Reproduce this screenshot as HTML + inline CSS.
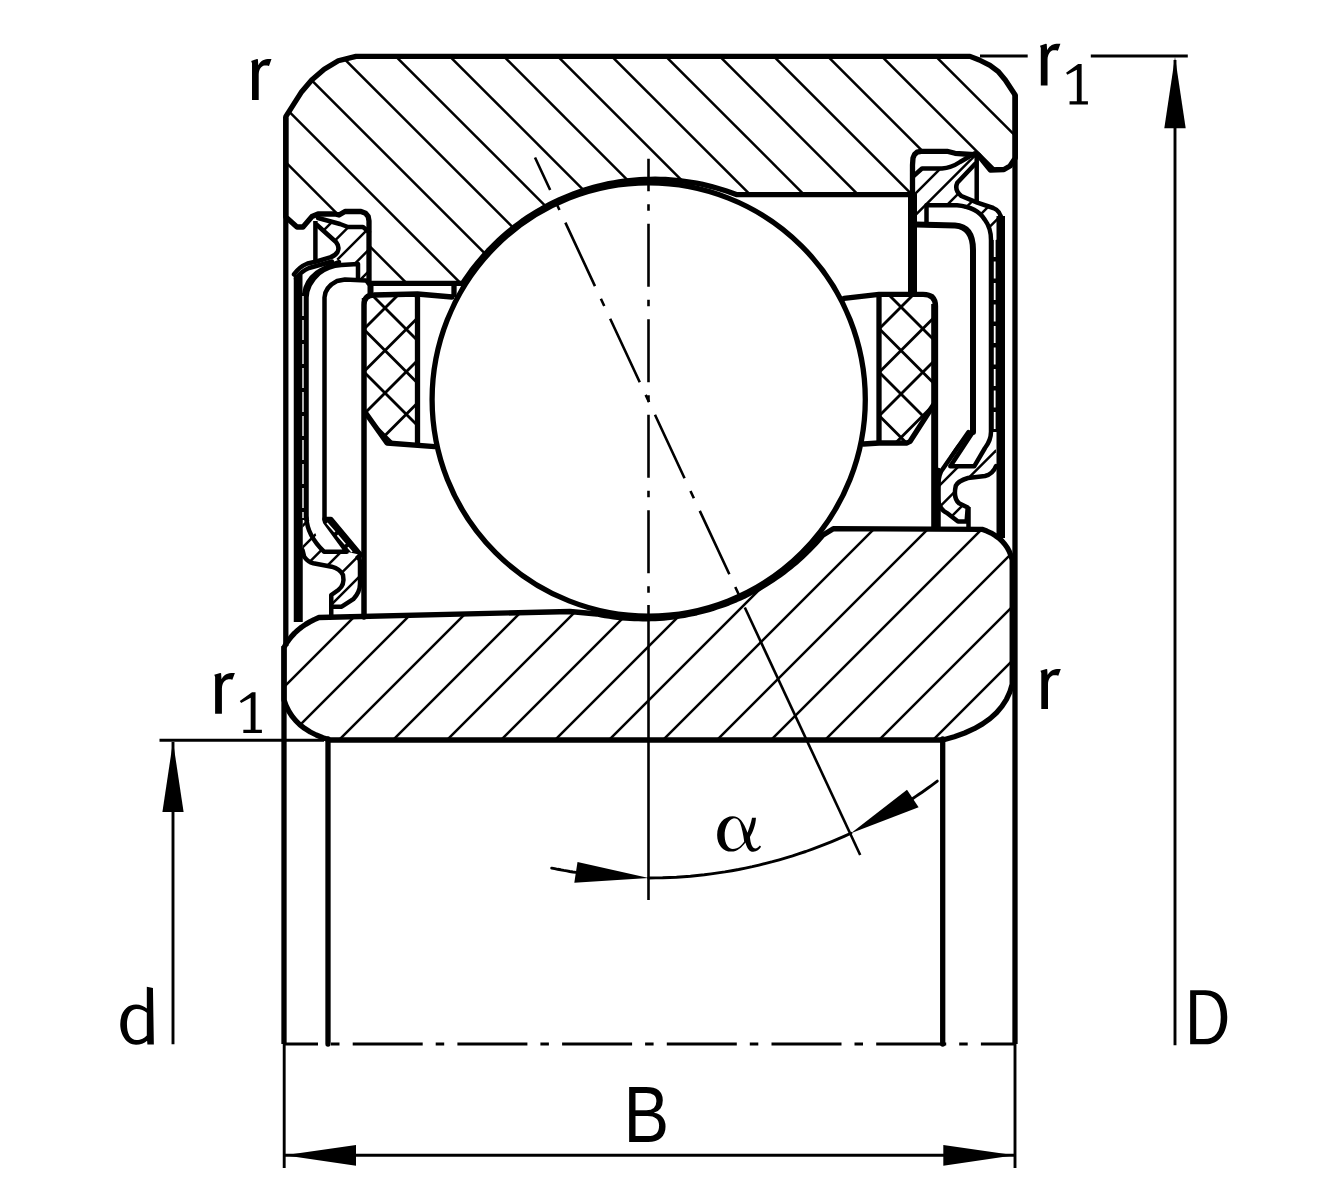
<!DOCTYPE html><html><head><meta charset="utf-8"><style>html,body{margin:0;padding:0;background:#fff;}svg{display:block}</style></head><body>
<svg width="1330" height="1200" viewBox="0 0 1330 1200">
<defs>
<clipPath id="co"><polygon points="356.0,56.4 970.0,56.4 979.3,60.0 990.0,65.3 998.0,71.3 1005.3,80.0 1015.3,95.3 1015.3,158.0 1010.0,166.0 1004.0,169.5 990.4,170.0 985.5,164.0 978.3,155.0 955.0,153.3 947.0,151.3 921.0,151.3 917.0,152.2 914.5,154.5 913.0,158.0 912.5,165.0 912.5,194.6 736.3,194.6 731.4,192.8 726.5,191.1 721.6,189.5 716.6,188.0 711.6,186.6 706.6,185.4 701.5,184.2 696.4,183.2 691.3,182.3 686.2,181.5 681.0,180.8 675.9,180.3 670.7,179.8 665.5,179.5 660.3,179.3 655.2,179.2 650.0,179.3 644.8,179.4 639.6,179.7 634.4,180.1 629.3,180.6 624.1,181.2 619.0,181.9 613.9,182.8 608.8,183.7 603.7,184.8 598.6,186.0 593.6,187.4 588.6,188.8 583.7,190.3 578.8,192.0 573.9,193.7 569.1,195.6 564.3,197.6 559.5,199.7 554.8,201.9 550.2,204.2 545.6,206.6 541.0,209.2 536.6,211.8 532.2,214.5 527.8,217.3 523.5,220.2 519.3,223.3 515.1,226.4 511.1,229.6 507.1,232.9 503.1,236.3 499.3,239.7 495.5,243.3 491.8,247.0 488.2,250.7 484.7,254.5 481.3,258.4 477.9,262.4 474.7,266.4 471.5,270.5 468.5,274.7 465.5,279.0 462.6,283.3 369.0,283.3 369.0,221.0 368.2,216.5 365.5,213.2 361.0,211.5 345.0,211.5 339.0,215.0 335.0,214.0 318.0,214.0 312.0,216.5 303.0,227.0 297.0,227.0 285.8,217.0 285.8,116.7 301.7,91.7 311.7,80.0 324.2,69.2 338.3,60.8"/></clipPath>
<clipPath id="ci"><polygon points="319.0,617.5 570.0,611.5 597.0,614.0 601.1,614.8 605.2,615.6 609.3,616.2 613.5,616.8 617.6,617.3 621.8,617.8 626.0,618.1 630.1,618.4 634.3,618.6 638.5,618.7 642.7,618.8 646.9,618.8 651.1,618.7 655.2,618.5 659.4,618.3 663.6,618.0 667.7,617.6 671.9,617.1 676.0,616.6 680.2,616.0 684.3,615.3 688.4,614.5 692.5,613.7 696.6,612.8 700.7,611.8 704.7,610.7 708.7,609.6 712.8,608.4 716.7,607.1 720.7,605.8 724.6,604.4 728.6,602.9 732.4,601.3 736.3,599.7 740.1,598.0 743.9,596.3 747.7,594.4 751.4,592.5 755.1,590.6 758.8,588.6 762.4,586.5 766.0,584.3 769.5,582.1 773.0,579.8 776.5,577.4 779.9,575.0 783.3,572.6 786.6,570.0 789.9,567.5 793.1,564.8 796.3,562.1 799.5,559.3 802.5,556.5 805.6,553.6 808.6,550.7 811.5,547.7 814.4,544.7 817.2,541.6 820.0,538.5 822.7,535.3 833.3,528.7 982.0,529.3 986.8,531.1 991.2,533.1 995.2,535.5 998.8,538.1 1002.0,541.0 1004.8,544.2 1007.3,547.7 1009.3,551.5 1010.9,555.6 1012.2,560.0 1012.2,684.3 1009.8,692.2 1006.3,699.6 1001.9,706.4 996.5,712.7 990.0,718.6 982.6,723.9 974.2,728.7 964.7,733.0 954.3,736.7 942.9,740.0 330.0,740.0 322.9,737.7 316.3,735.0 310.3,732.0 304.9,728.6 300.0,724.8 295.7,720.6 291.9,716.0 288.7,711.0 286.1,705.7 284.0,700.0 284.0,647.5 286.2,643.6 288.8,639.9 291.6,636.4 294.6,633.1 298.0,630.0 301.6,627.1 305.6,624.4 309.8,621.9 314.2,619.6"/></clipPath>
<clipPath id="cl"><polygon points="365.0,295.0 417.5,295.0 417.5,443.0 387.0,443.0 365.0,412.0"/></clipPath>
<clipPath id="cr"><polygon points="879.0,294.3 933.5,294.3 933.5,405.0 910.0,443.0 879.0,443.0"/></clipPath>
</defs>
<rect width="1330" height="1200" fill="#fff"/>
<g clip-path="url(#co)">
<line x1="0.0" y1="-1473.4" x2="1400.0" y2="-73.4" stroke="#000" stroke-width="2.5" />
<line x1="0.0" y1="-1419.4" x2="1400.0" y2="-19.4" stroke="#000" stroke-width="2.5" />
<line x1="0.0" y1="-1365.4" x2="1400.0" y2="34.6" stroke="#000" stroke-width="2.5" />
<line x1="0.0" y1="-1311.4" x2="1400.0" y2="88.6" stroke="#000" stroke-width="2.5" />
<line x1="0.0" y1="-1257.4" x2="1400.0" y2="142.6" stroke="#000" stroke-width="2.5" />
<line x1="0.0" y1="-1203.4" x2="1400.0" y2="196.6" stroke="#000" stroke-width="2.5" />
<line x1="0.0" y1="-1149.4" x2="1400.0" y2="250.6" stroke="#000" stroke-width="2.5" />
<line x1="0.0" y1="-1095.4" x2="1400.0" y2="304.6" stroke="#000" stroke-width="2.5" />
<line x1="0.0" y1="-1041.4" x2="1400.0" y2="358.6" stroke="#000" stroke-width="2.5" />
<line x1="0.0" y1="-987.4" x2="1400.0" y2="412.6" stroke="#000" stroke-width="2.5" />
<line x1="0.0" y1="-933.4" x2="1400.0" y2="466.6" stroke="#000" stroke-width="2.5" />
<line x1="0.0" y1="-879.4" x2="1400.0" y2="520.6" stroke="#000" stroke-width="2.5" />
<line x1="0.0" y1="-825.4" x2="1400.0" y2="574.6" stroke="#000" stroke-width="2.5" />
<line x1="0.0" y1="-771.4" x2="1400.0" y2="628.6" stroke="#000" stroke-width="2.5" />
<line x1="0.0" y1="-717.4" x2="1400.0" y2="682.6" stroke="#000" stroke-width="2.5" />
<line x1="0.0" y1="-663.4" x2="1400.0" y2="736.6" stroke="#000" stroke-width="2.5" />
<line x1="0.0" y1="-609.4" x2="1400.0" y2="790.6" stroke="#000" stroke-width="2.5" />
<line x1="0.0" y1="-555.4" x2="1400.0" y2="844.6" stroke="#000" stroke-width="2.5" />
<line x1="0.0" y1="-501.4" x2="1400.0" y2="898.6" stroke="#000" stroke-width="2.5" />
<line x1="0.0" y1="-447.4" x2="1400.0" y2="952.6" stroke="#000" stroke-width="2.5" />
<line x1="0.0" y1="-393.4" x2="1400.0" y2="1006.6" stroke="#000" stroke-width="2.5" />
<line x1="0.0" y1="-339.4" x2="1400.0" y2="1060.6" stroke="#000" stroke-width="2.5" />
<line x1="0.0" y1="-285.4" x2="1400.0" y2="1114.6" stroke="#000" stroke-width="2.5" />
<line x1="0.0" y1="-231.4" x2="1400.0" y2="1168.6" stroke="#000" stroke-width="2.5" />
<line x1="0.0" y1="-177.4" x2="1400.0" y2="1222.6" stroke="#000" stroke-width="2.5" />
<line x1="0.0" y1="-123.4" x2="1400.0" y2="1276.6" stroke="#000" stroke-width="2.5" />
<line x1="0.0" y1="-69.4" x2="1400.0" y2="1330.6" stroke="#000" stroke-width="2.5" />
<line x1="0.0" y1="-15.4" x2="1400.0" y2="1384.6" stroke="#000" stroke-width="2.5" />
<line x1="0.0" y1="38.6" x2="1400.0" y2="1438.6" stroke="#000" stroke-width="2.5" />
<line x1="0.0" y1="92.6" x2="1400.0" y2="1492.6" stroke="#000" stroke-width="2.5" />
<line x1="0.0" y1="146.6" x2="1400.0" y2="1546.6" stroke="#000" stroke-width="2.5" />
<line x1="0.0" y1="200.6" x2="1400.0" y2="1600.6" stroke="#000" stroke-width="2.5" />
<line x1="0.0" y1="254.6" x2="1400.0" y2="1654.6" stroke="#000" stroke-width="2.5" />
<line x1="0.0" y1="308.6" x2="1400.0" y2="1708.6" stroke="#000" stroke-width="2.5" />
<line x1="0.0" y1="362.6" x2="1400.0" y2="1762.6" stroke="#000" stroke-width="2.5" />
<line x1="0.0" y1="416.6" x2="1400.0" y2="1816.6" stroke="#000" stroke-width="2.5" />
<line x1="0.0" y1="470.6" x2="1400.0" y2="1870.6" stroke="#000" stroke-width="2.5" />
<line x1="0.0" y1="524.6" x2="1400.0" y2="1924.6" stroke="#000" stroke-width="2.5" />
<line x1="0.0" y1="578.6" x2="1400.0" y2="1978.6" stroke="#000" stroke-width="2.5" />
<line x1="0.0" y1="632.6" x2="1400.0" y2="2032.6" stroke="#000" stroke-width="2.5" />
</g>
<g clip-path="url(#ci)">
<line x1="0.0" y1="-1.0" x2="-1.0" y2="0.0" stroke="#000" stroke-width="2.5" />
<line x1="0.0" y1="53.0" x2="53.0" y2="0.0" stroke="#000" stroke-width="2.5" />
<line x1="0.0" y1="107.0" x2="107.0" y2="0.0" stroke="#000" stroke-width="2.5" />
<line x1="0.0" y1="161.0" x2="161.0" y2="0.0" stroke="#000" stroke-width="2.5" />
<line x1="0.0" y1="215.0" x2="215.0" y2="0.0" stroke="#000" stroke-width="2.5" />
<line x1="0.0" y1="269.0" x2="269.0" y2="0.0" stroke="#000" stroke-width="2.5" />
<line x1="0.0" y1="323.0" x2="323.0" y2="0.0" stroke="#000" stroke-width="2.5" />
<line x1="0.0" y1="377.0" x2="377.0" y2="0.0" stroke="#000" stroke-width="2.5" />
<line x1="0.0" y1="431.0" x2="431.0" y2="0.0" stroke="#000" stroke-width="2.5" />
<line x1="0.0" y1="485.0" x2="485.0" y2="0.0" stroke="#000" stroke-width="2.5" />
<line x1="0.0" y1="539.0" x2="539.0" y2="0.0" stroke="#000" stroke-width="2.5" />
<line x1="0.0" y1="593.0" x2="593.0" y2="0.0" stroke="#000" stroke-width="2.5" />
<line x1="0.0" y1="647.0" x2="647.0" y2="0.0" stroke="#000" stroke-width="2.5" />
<line x1="0.0" y1="701.0" x2="701.0" y2="0.0" stroke="#000" stroke-width="2.5" />
<line x1="0.0" y1="755.0" x2="755.0" y2="0.0" stroke="#000" stroke-width="2.5" />
<line x1="0.0" y1="809.0" x2="809.0" y2="0.0" stroke="#000" stroke-width="2.5" />
<line x1="0.0" y1="863.0" x2="863.0" y2="0.0" stroke="#000" stroke-width="2.5" />
<line x1="0.0" y1="917.0" x2="917.0" y2="0.0" stroke="#000" stroke-width="2.5" />
<line x1="0.0" y1="971.0" x2="971.0" y2="0.0" stroke="#000" stroke-width="2.5" />
<line x1="0.0" y1="1025.0" x2="1025.0" y2="0.0" stroke="#000" stroke-width="2.5" />
<line x1="0.0" y1="1079.0" x2="1079.0" y2="0.0" stroke="#000" stroke-width="2.5" />
<line x1="0.0" y1="1133.0" x2="1133.0" y2="0.0" stroke="#000" stroke-width="2.5" />
<line x1="0.0" y1="1187.0" x2="1187.0" y2="0.0" stroke="#000" stroke-width="2.5" />
<line x1="0.0" y1="1241.0" x2="1241.0" y2="0.0" stroke="#000" stroke-width="2.5" />
<line x1="0.0" y1="1295.0" x2="1295.0" y2="0.0" stroke="#000" stroke-width="2.5" />
<line x1="0.0" y1="1349.0" x2="1349.0" y2="0.0" stroke="#000" stroke-width="2.5" />
<line x1="0.0" y1="1403.0" x2="1403.0" y2="0.0" stroke="#000" stroke-width="2.5" />
<line x1="0.0" y1="1457.0" x2="1457.0" y2="0.0" stroke="#000" stroke-width="2.5" />
<line x1="0.0" y1="1511.0" x2="1511.0" y2="0.0" stroke="#000" stroke-width="2.5" />
<line x1="0.0" y1="1565.0" x2="1565.0" y2="0.0" stroke="#000" stroke-width="2.5" />
<line x1="0.0" y1="1619.0" x2="1619.0" y2="0.0" stroke="#000" stroke-width="2.5" />
<line x1="0.0" y1="1673.0" x2="1673.0" y2="0.0" stroke="#000" stroke-width="2.5" />
<line x1="0.0" y1="1727.0" x2="1727.0" y2="0.0" stroke="#000" stroke-width="2.5" />
<line x1="0.0" y1="1781.0" x2="1781.0" y2="0.0" stroke="#000" stroke-width="2.5" />
<line x1="0.0" y1="1835.0" x2="1835.0" y2="0.0" stroke="#000" stroke-width="2.5" />
<line x1="0.0" y1="1889.0" x2="1889.0" y2="0.0" stroke="#000" stroke-width="2.5" />
<line x1="0.0" y1="1943.0" x2="1943.0" y2="0.0" stroke="#000" stroke-width="2.5" />
<line x1="0.0" y1="1997.0" x2="1997.0" y2="0.0" stroke="#000" stroke-width="2.5" />
<line x1="0.0" y1="2051.0" x2="2051.0" y2="0.0" stroke="#000" stroke-width="2.5" />
<line x1="0.0" y1="2105.0" x2="2105.0" y2="0.0" stroke="#000" stroke-width="2.5" />
<line x1="0.0" y1="2159.0" x2="2159.0" y2="0.0" stroke="#000" stroke-width="2.5" />
<line x1="0.0" y1="2213.0" x2="2213.0" y2="0.0" stroke="#000" stroke-width="2.5" />
<line x1="0.0" y1="2267.0" x2="2267.0" y2="0.0" stroke="#000" stroke-width="2.5" />
<line x1="0.0" y1="2321.0" x2="2321.0" y2="0.0" stroke="#000" stroke-width="2.5" />
<line x1="0.0" y1="2375.0" x2="2375.0" y2="0.0" stroke="#000" stroke-width="2.5" />
<line x1="0.0" y1="2429.0" x2="2429.0" y2="0.0" stroke="#000" stroke-width="2.5" />
<line x1="0.0" y1="2483.0" x2="2483.0" y2="0.0" stroke="#000" stroke-width="2.5" />
<line x1="0.0" y1="2537.0" x2="2537.0" y2="0.0" stroke="#000" stroke-width="2.5" />
<line x1="0.0" y1="2591.0" x2="2591.0" y2="0.0" stroke="#000" stroke-width="2.5" />
<line x1="0.0" y1="2645.0" x2="2645.0" y2="0.0" stroke="#000" stroke-width="2.5" />
</g>
<g clip-path="url(#cl)">
<line x1="0.0" y1="-1352.0" x2="1400.0" y2="48.0" stroke="#000" stroke-width="2.8" />
<line x1="0.0" y1="-582.0" x2="-582.0" y2="0.0" stroke="#000" stroke-width="2.8" />
<line x1="0.0" y1="-1309.5" x2="1400.0" y2="90.5" stroke="#000" stroke-width="2.8" />
<line x1="0.0" y1="-539.5" x2="-539.5" y2="0.0" stroke="#000" stroke-width="2.8" />
<line x1="0.0" y1="-1267.0" x2="1400.0" y2="133.0" stroke="#000" stroke-width="2.8" />
<line x1="0.0" y1="-497.0" x2="-497.0" y2="0.0" stroke="#000" stroke-width="2.8" />
<line x1="0.0" y1="-1224.5" x2="1400.0" y2="175.5" stroke="#000" stroke-width="2.8" />
<line x1="0.0" y1="-454.5" x2="-454.5" y2="0.0" stroke="#000" stroke-width="2.8" />
<line x1="0.0" y1="-1182.0" x2="1400.0" y2="218.0" stroke="#000" stroke-width="2.8" />
<line x1="0.0" y1="-412.0" x2="-412.0" y2="0.0" stroke="#000" stroke-width="2.8" />
<line x1="0.0" y1="-1139.5" x2="1400.0" y2="260.5" stroke="#000" stroke-width="2.8" />
<line x1="0.0" y1="-369.5" x2="-369.5" y2="0.0" stroke="#000" stroke-width="2.8" />
<line x1="0.0" y1="-1097.0" x2="1400.0" y2="303.0" stroke="#000" stroke-width="2.8" />
<line x1="0.0" y1="-327.0" x2="-327.0" y2="0.0" stroke="#000" stroke-width="2.8" />
<line x1="0.0" y1="-1054.5" x2="1400.0" y2="345.5" stroke="#000" stroke-width="2.8" />
<line x1="0.0" y1="-284.5" x2="-284.5" y2="0.0" stroke="#000" stroke-width="2.8" />
<line x1="0.0" y1="-1012.0" x2="1400.0" y2="388.0" stroke="#000" stroke-width="2.8" />
<line x1="0.0" y1="-242.0" x2="-242.0" y2="0.0" stroke="#000" stroke-width="2.8" />
<line x1="0.0" y1="-969.5" x2="1400.0" y2="430.5" stroke="#000" stroke-width="2.8" />
<line x1="0.0" y1="-199.5" x2="-199.5" y2="0.0" stroke="#000" stroke-width="2.8" />
<line x1="0.0" y1="-927.0" x2="1400.0" y2="473.0" stroke="#000" stroke-width="2.8" />
<line x1="0.0" y1="-157.0" x2="-157.0" y2="0.0" stroke="#000" stroke-width="2.8" />
<line x1="0.0" y1="-884.5" x2="1400.0" y2="515.5" stroke="#000" stroke-width="2.8" />
<line x1="0.0" y1="-114.5" x2="-114.5" y2="0.0" stroke="#000" stroke-width="2.8" />
<line x1="0.0" y1="-842.0" x2="1400.0" y2="558.0" stroke="#000" stroke-width="2.8" />
<line x1="0.0" y1="-72.0" x2="-72.0" y2="0.0" stroke="#000" stroke-width="2.8" />
<line x1="0.0" y1="-799.5" x2="1400.0" y2="600.5" stroke="#000" stroke-width="2.8" />
<line x1="0.0" y1="-29.5" x2="-29.5" y2="0.0" stroke="#000" stroke-width="2.8" />
<line x1="0.0" y1="-757.0" x2="1400.0" y2="643.0" stroke="#000" stroke-width="2.8" />
<line x1="0.0" y1="13.0" x2="13.0" y2="0.0" stroke="#000" stroke-width="2.8" />
<line x1="0.0" y1="-714.5" x2="1400.0" y2="685.5" stroke="#000" stroke-width="2.8" />
<line x1="0.0" y1="55.5" x2="55.5" y2="0.0" stroke="#000" stroke-width="2.8" />
<line x1="0.0" y1="-672.0" x2="1400.0" y2="728.0" stroke="#000" stroke-width="2.8" />
<line x1="0.0" y1="98.0" x2="98.0" y2="0.0" stroke="#000" stroke-width="2.8" />
<line x1="0.0" y1="-629.5" x2="1400.0" y2="770.5" stroke="#000" stroke-width="2.8" />
<line x1="0.0" y1="140.5" x2="140.5" y2="0.0" stroke="#000" stroke-width="2.8" />
<line x1="0.0" y1="-587.0" x2="1400.0" y2="813.0" stroke="#000" stroke-width="2.8" />
<line x1="0.0" y1="183.0" x2="183.0" y2="0.0" stroke="#000" stroke-width="2.8" />
<line x1="0.0" y1="-544.5" x2="1400.0" y2="855.5" stroke="#000" stroke-width="2.8" />
<line x1="0.0" y1="225.5" x2="225.5" y2="0.0" stroke="#000" stroke-width="2.8" />
<line x1="0.0" y1="-502.0" x2="1400.0" y2="898.0" stroke="#000" stroke-width="2.8" />
<line x1="0.0" y1="268.0" x2="268.0" y2="0.0" stroke="#000" stroke-width="2.8" />
<line x1="0.0" y1="-459.5" x2="1400.0" y2="940.5" stroke="#000" stroke-width="2.8" />
<line x1="0.0" y1="310.5" x2="310.5" y2="0.0" stroke="#000" stroke-width="2.8" />
<line x1="0.0" y1="-417.0" x2="1400.0" y2="983.0" stroke="#000" stroke-width="2.8" />
<line x1="0.0" y1="353.0" x2="353.0" y2="0.0" stroke="#000" stroke-width="2.8" />
<line x1="0.0" y1="-374.5" x2="1400.0" y2="1025.5" stroke="#000" stroke-width="2.8" />
<line x1="0.0" y1="395.5" x2="395.5" y2="0.0" stroke="#000" stroke-width="2.8" />
<line x1="0.0" y1="-332.0" x2="1400.0" y2="1068.0" stroke="#000" stroke-width="2.8" />
<line x1="0.0" y1="438.0" x2="438.0" y2="0.0" stroke="#000" stroke-width="2.8" />
<line x1="0.0" y1="-289.5" x2="1400.0" y2="1110.5" stroke="#000" stroke-width="2.8" />
<line x1="0.0" y1="480.5" x2="480.5" y2="0.0" stroke="#000" stroke-width="2.8" />
<line x1="0.0" y1="-247.0" x2="1400.0" y2="1153.0" stroke="#000" stroke-width="2.8" />
<line x1="0.0" y1="523.0" x2="523.0" y2="0.0" stroke="#000" stroke-width="2.8" />
<line x1="0.0" y1="-204.5" x2="1400.0" y2="1195.5" stroke="#000" stroke-width="2.8" />
<line x1="0.0" y1="565.5" x2="565.5" y2="0.0" stroke="#000" stroke-width="2.8" />
<line x1="0.0" y1="-162.0" x2="1400.0" y2="1238.0" stroke="#000" stroke-width="2.8" />
<line x1="0.0" y1="608.0" x2="608.0" y2="0.0" stroke="#000" stroke-width="2.8" />
<line x1="0.0" y1="-119.5" x2="1400.0" y2="1280.5" stroke="#000" stroke-width="2.8" />
<line x1="0.0" y1="650.5" x2="650.5" y2="0.0" stroke="#000" stroke-width="2.8" />
<line x1="0.0" y1="-77.0" x2="1400.0" y2="1323.0" stroke="#000" stroke-width="2.8" />
<line x1="0.0" y1="693.0" x2="693.0" y2="0.0" stroke="#000" stroke-width="2.8" />
<line x1="0.0" y1="-34.5" x2="1400.0" y2="1365.5" stroke="#000" stroke-width="2.8" />
<line x1="0.0" y1="735.5" x2="735.5" y2="0.0" stroke="#000" stroke-width="2.8" />
<line x1="0.0" y1="8.0" x2="1400.0" y2="1408.0" stroke="#000" stroke-width="2.8" />
<line x1="0.0" y1="778.0" x2="778.0" y2="0.0" stroke="#000" stroke-width="2.8" />
<line x1="0.0" y1="50.5" x2="1400.0" y2="1450.5" stroke="#000" stroke-width="2.8" />
<line x1="0.0" y1="820.5" x2="820.5" y2="0.0" stroke="#000" stroke-width="2.8" />
<line x1="0.0" y1="93.0" x2="1400.0" y2="1493.0" stroke="#000" stroke-width="2.8" />
<line x1="0.0" y1="863.0" x2="863.0" y2="0.0" stroke="#000" stroke-width="2.8" />
<line x1="0.0" y1="135.5" x2="1400.0" y2="1535.5" stroke="#000" stroke-width="2.8" />
<line x1="0.0" y1="905.5" x2="905.5" y2="0.0" stroke="#000" stroke-width="2.8" />
<line x1="0.0" y1="178.0" x2="1400.0" y2="1578.0" stroke="#000" stroke-width="2.8" />
<line x1="0.0" y1="948.0" x2="948.0" y2="0.0" stroke="#000" stroke-width="2.8" />
<line x1="0.0" y1="220.5" x2="1400.0" y2="1620.5" stroke="#000" stroke-width="2.8" />
<line x1="0.0" y1="990.5" x2="990.5" y2="0.0" stroke="#000" stroke-width="2.8" />
<line x1="0.0" y1="263.0" x2="1400.0" y2="1663.0" stroke="#000" stroke-width="2.8" />
<line x1="0.0" y1="1033.0" x2="1033.0" y2="0.0" stroke="#000" stroke-width="2.8" />
<line x1="0.0" y1="305.5" x2="1400.0" y2="1705.5" stroke="#000" stroke-width="2.8" />
<line x1="0.0" y1="1075.5" x2="1075.5" y2="0.0" stroke="#000" stroke-width="2.8" />
<line x1="0.0" y1="348.0" x2="1400.0" y2="1748.0" stroke="#000" stroke-width="2.8" />
<line x1="0.0" y1="1118.0" x2="1118.0" y2="0.0" stroke="#000" stroke-width="2.8" />
<line x1="0.0" y1="390.5" x2="1400.0" y2="1790.5" stroke="#000" stroke-width="2.8" />
<line x1="0.0" y1="1160.5" x2="1160.5" y2="0.0" stroke="#000" stroke-width="2.8" />
<line x1="0.0" y1="433.0" x2="1400.0" y2="1833.0" stroke="#000" stroke-width="2.8" />
<line x1="0.0" y1="1203.0" x2="1203.0" y2="0.0" stroke="#000" stroke-width="2.8" />
<line x1="0.0" y1="475.5" x2="1400.0" y2="1875.5" stroke="#000" stroke-width="2.8" />
<line x1="0.0" y1="1245.5" x2="1245.5" y2="0.0" stroke="#000" stroke-width="2.8" />
<line x1="0.0" y1="518.0" x2="1400.0" y2="1918.0" stroke="#000" stroke-width="2.8" />
<line x1="0.0" y1="1288.0" x2="1288.0" y2="0.0" stroke="#000" stroke-width="2.8" />
<line x1="0.0" y1="560.5" x2="1400.0" y2="1960.5" stroke="#000" stroke-width="2.8" />
<line x1="0.0" y1="1330.5" x2="1330.5" y2="0.0" stroke="#000" stroke-width="2.8" />
<line x1="0.0" y1="603.0" x2="1400.0" y2="2003.0" stroke="#000" stroke-width="2.8" />
<line x1="0.0" y1="1373.0" x2="1373.0" y2="0.0" stroke="#000" stroke-width="2.8" />
<line x1="0.0" y1="645.5" x2="1400.0" y2="2045.5" stroke="#000" stroke-width="2.8" />
<line x1="0.0" y1="1415.5" x2="1415.5" y2="0.0" stroke="#000" stroke-width="2.8" />
<line x1="0.0" y1="688.0" x2="1400.0" y2="2088.0" stroke="#000" stroke-width="2.8" />
<line x1="0.0" y1="1458.0" x2="1458.0" y2="0.0" stroke="#000" stroke-width="2.8" />
<line x1="0.0" y1="730.5" x2="1400.0" y2="2130.5" stroke="#000" stroke-width="2.8" />
<line x1="0.0" y1="1500.5" x2="1500.5" y2="0.0" stroke="#000" stroke-width="2.8" />
<line x1="0.0" y1="773.0" x2="1400.0" y2="2173.0" stroke="#000" stroke-width="2.8" />
<line x1="0.0" y1="1543.0" x2="1543.0" y2="0.0" stroke="#000" stroke-width="2.8" />
<line x1="0.0" y1="815.5" x2="1400.0" y2="2215.5" stroke="#000" stroke-width="2.8" />
<line x1="0.0" y1="1585.5" x2="1585.5" y2="0.0" stroke="#000" stroke-width="2.8" />
<line x1="0.0" y1="858.0" x2="1400.0" y2="2258.0" stroke="#000" stroke-width="2.8" />
<line x1="0.0" y1="1628.0" x2="1628.0" y2="0.0" stroke="#000" stroke-width="2.8" />
<line x1="0.0" y1="900.5" x2="1400.0" y2="2300.5" stroke="#000" stroke-width="2.8" />
<line x1="0.0" y1="1670.5" x2="1670.5" y2="0.0" stroke="#000" stroke-width="2.8" />
<line x1="0.0" y1="943.0" x2="1400.0" y2="2343.0" stroke="#000" stroke-width="2.8" />
<line x1="0.0" y1="1713.0" x2="1713.0" y2="0.0" stroke="#000" stroke-width="2.8" />
<line x1="0.0" y1="985.5" x2="1400.0" y2="2385.5" stroke="#000" stroke-width="2.8" />
<line x1="0.0" y1="1755.5" x2="1755.5" y2="0.0" stroke="#000" stroke-width="2.8" />
<line x1="0.0" y1="1028.0" x2="1400.0" y2="2428.0" stroke="#000" stroke-width="2.8" />
<line x1="0.0" y1="1798.0" x2="1798.0" y2="0.0" stroke="#000" stroke-width="2.8" />
<line x1="0.0" y1="1070.5" x2="1400.0" y2="2470.5" stroke="#000" stroke-width="2.8" />
<line x1="0.0" y1="1840.5" x2="1840.5" y2="0.0" stroke="#000" stroke-width="2.8" />
<line x1="0.0" y1="1113.0" x2="1400.0" y2="2513.0" stroke="#000" stroke-width="2.8" />
<line x1="0.0" y1="1883.0" x2="1883.0" y2="0.0" stroke="#000" stroke-width="2.8" />
<line x1="0.0" y1="1155.5" x2="1400.0" y2="2555.5" stroke="#000" stroke-width="2.8" />
<line x1="0.0" y1="1925.5" x2="1925.5" y2="0.0" stroke="#000" stroke-width="2.8" />
</g>
<g clip-path="url(#cr)">
<line x1="0.0" y1="-1899.0" x2="1400.0" y2="-499.0" stroke="#000" stroke-width="2.8" />
<line x1="0.0" y1="-97.0" x2="-97.0" y2="0.0" stroke="#000" stroke-width="2.8" />
<line x1="0.0" y1="-1855.5" x2="1400.0" y2="-455.5" stroke="#000" stroke-width="2.8" />
<line x1="0.0" y1="-53.5" x2="-53.5" y2="0.0" stroke="#000" stroke-width="2.8" />
<line x1="0.0" y1="-1812.0" x2="1400.0" y2="-412.0" stroke="#000" stroke-width="2.8" />
<line x1="0.0" y1="-10.0" x2="-10.0" y2="0.0" stroke="#000" stroke-width="2.8" />
<line x1="0.0" y1="-1768.5" x2="1400.0" y2="-368.5" stroke="#000" stroke-width="2.8" />
<line x1="0.0" y1="33.5" x2="33.5" y2="0.0" stroke="#000" stroke-width="2.8" />
<line x1="0.0" y1="-1725.0" x2="1400.0" y2="-325.0" stroke="#000" stroke-width="2.8" />
<line x1="0.0" y1="77.0" x2="77.0" y2="0.0" stroke="#000" stroke-width="2.8" />
<line x1="0.0" y1="-1681.5" x2="1400.0" y2="-281.5" stroke="#000" stroke-width="2.8" />
<line x1="0.0" y1="120.5" x2="120.5" y2="0.0" stroke="#000" stroke-width="2.8" />
<line x1="0.0" y1="-1638.0" x2="1400.0" y2="-238.0" stroke="#000" stroke-width="2.8" />
<line x1="0.0" y1="164.0" x2="164.0" y2="0.0" stroke="#000" stroke-width="2.8" />
<line x1="0.0" y1="-1594.5" x2="1400.0" y2="-194.5" stroke="#000" stroke-width="2.8" />
<line x1="0.0" y1="207.5" x2="207.5" y2="0.0" stroke="#000" stroke-width="2.8" />
<line x1="0.0" y1="-1551.0" x2="1400.0" y2="-151.0" stroke="#000" stroke-width="2.8" />
<line x1="0.0" y1="251.0" x2="251.0" y2="0.0" stroke="#000" stroke-width="2.8" />
<line x1="0.0" y1="-1507.5" x2="1400.0" y2="-107.5" stroke="#000" stroke-width="2.8" />
<line x1="0.0" y1="294.5" x2="294.5" y2="0.0" stroke="#000" stroke-width="2.8" />
<line x1="0.0" y1="-1464.0" x2="1400.0" y2="-64.0" stroke="#000" stroke-width="2.8" />
<line x1="0.0" y1="338.0" x2="338.0" y2="0.0" stroke="#000" stroke-width="2.8" />
<line x1="0.0" y1="-1420.5" x2="1400.0" y2="-20.5" stroke="#000" stroke-width="2.8" />
<line x1="0.0" y1="381.5" x2="381.5" y2="0.0" stroke="#000" stroke-width="2.8" />
<line x1="0.0" y1="-1377.0" x2="1400.0" y2="23.0" stroke="#000" stroke-width="2.8" />
<line x1="0.0" y1="425.0" x2="425.0" y2="0.0" stroke="#000" stroke-width="2.8" />
<line x1="0.0" y1="-1333.5" x2="1400.0" y2="66.5" stroke="#000" stroke-width="2.8" />
<line x1="0.0" y1="468.5" x2="468.5" y2="0.0" stroke="#000" stroke-width="2.8" />
<line x1="0.0" y1="-1290.0" x2="1400.0" y2="110.0" stroke="#000" stroke-width="2.8" />
<line x1="0.0" y1="512.0" x2="512.0" y2="0.0" stroke="#000" stroke-width="2.8" />
<line x1="0.0" y1="-1246.5" x2="1400.0" y2="153.5" stroke="#000" stroke-width="2.8" />
<line x1="0.0" y1="555.5" x2="555.5" y2="0.0" stroke="#000" stroke-width="2.8" />
<line x1="0.0" y1="-1203.0" x2="1400.0" y2="197.0" stroke="#000" stroke-width="2.8" />
<line x1="0.0" y1="599.0" x2="599.0" y2="0.0" stroke="#000" stroke-width="2.8" />
<line x1="0.0" y1="-1159.5" x2="1400.0" y2="240.5" stroke="#000" stroke-width="2.8" />
<line x1="0.0" y1="642.5" x2="642.5" y2="0.0" stroke="#000" stroke-width="2.8" />
<line x1="0.0" y1="-1116.0" x2="1400.0" y2="284.0" stroke="#000" stroke-width="2.8" />
<line x1="0.0" y1="686.0" x2="686.0" y2="0.0" stroke="#000" stroke-width="2.8" />
<line x1="0.0" y1="-1072.5" x2="1400.0" y2="327.5" stroke="#000" stroke-width="2.8" />
<line x1="0.0" y1="729.5" x2="729.5" y2="0.0" stroke="#000" stroke-width="2.8" />
<line x1="0.0" y1="-1029.0" x2="1400.0" y2="371.0" stroke="#000" stroke-width="2.8" />
<line x1="0.0" y1="773.0" x2="773.0" y2="0.0" stroke="#000" stroke-width="2.8" />
<line x1="0.0" y1="-985.5" x2="1400.0" y2="414.5" stroke="#000" stroke-width="2.8" />
<line x1="0.0" y1="816.5" x2="816.5" y2="0.0" stroke="#000" stroke-width="2.8" />
<line x1="0.0" y1="-942.0" x2="1400.0" y2="458.0" stroke="#000" stroke-width="2.8" />
<line x1="0.0" y1="860.0" x2="860.0" y2="0.0" stroke="#000" stroke-width="2.8" />
<line x1="0.0" y1="-898.5" x2="1400.0" y2="501.5" stroke="#000" stroke-width="2.8" />
<line x1="0.0" y1="903.5" x2="903.5" y2="0.0" stroke="#000" stroke-width="2.8" />
<line x1="0.0" y1="-855.0" x2="1400.0" y2="545.0" stroke="#000" stroke-width="2.8" />
<line x1="0.0" y1="947.0" x2="947.0" y2="0.0" stroke="#000" stroke-width="2.8" />
<line x1="0.0" y1="-811.5" x2="1400.0" y2="588.5" stroke="#000" stroke-width="2.8" />
<line x1="0.0" y1="990.5" x2="990.5" y2="0.0" stroke="#000" stroke-width="2.8" />
<line x1="0.0" y1="-768.0" x2="1400.0" y2="632.0" stroke="#000" stroke-width="2.8" />
<line x1="0.0" y1="1034.0" x2="1034.0" y2="0.0" stroke="#000" stroke-width="2.8" />
<line x1="0.0" y1="-724.5" x2="1400.0" y2="675.5" stroke="#000" stroke-width="2.8" />
<line x1="0.0" y1="1077.5" x2="1077.5" y2="0.0" stroke="#000" stroke-width="2.8" />
<line x1="0.0" y1="-681.0" x2="1400.0" y2="719.0" stroke="#000" stroke-width="2.8" />
<line x1="0.0" y1="1121.0" x2="1121.0" y2="0.0" stroke="#000" stroke-width="2.8" />
<line x1="0.0" y1="-637.5" x2="1400.0" y2="762.5" stroke="#000" stroke-width="2.8" />
<line x1="0.0" y1="1164.5" x2="1164.5" y2="0.0" stroke="#000" stroke-width="2.8" />
<line x1="0.0" y1="-594.0" x2="1400.0" y2="806.0" stroke="#000" stroke-width="2.8" />
<line x1="0.0" y1="1208.0" x2="1208.0" y2="0.0" stroke="#000" stroke-width="2.8" />
<line x1="0.0" y1="-550.5" x2="1400.0" y2="849.5" stroke="#000" stroke-width="2.8" />
<line x1="0.0" y1="1251.5" x2="1251.5" y2="0.0" stroke="#000" stroke-width="2.8" />
<line x1="0.0" y1="-507.0" x2="1400.0" y2="893.0" stroke="#000" stroke-width="2.8" />
<line x1="0.0" y1="1295.0" x2="1295.0" y2="0.0" stroke="#000" stroke-width="2.8" />
<line x1="0.0" y1="-463.5" x2="1400.0" y2="936.5" stroke="#000" stroke-width="2.8" />
<line x1="0.0" y1="1338.5" x2="1338.5" y2="0.0" stroke="#000" stroke-width="2.8" />
<line x1="0.0" y1="-420.0" x2="1400.0" y2="980.0" stroke="#000" stroke-width="2.8" />
<line x1="0.0" y1="1382.0" x2="1382.0" y2="0.0" stroke="#000" stroke-width="2.8" />
<line x1="0.0" y1="-376.5" x2="1400.0" y2="1023.5" stroke="#000" stroke-width="2.8" />
<line x1="0.0" y1="1425.5" x2="1425.5" y2="0.0" stroke="#000" stroke-width="2.8" />
<line x1="0.0" y1="-333.0" x2="1400.0" y2="1067.0" stroke="#000" stroke-width="2.8" />
<line x1="0.0" y1="1469.0" x2="1469.0" y2="0.0" stroke="#000" stroke-width="2.8" />
<line x1="0.0" y1="-289.5" x2="1400.0" y2="1110.5" stroke="#000" stroke-width="2.8" />
<line x1="0.0" y1="1512.5" x2="1512.5" y2="0.0" stroke="#000" stroke-width="2.8" />
<line x1="0.0" y1="-246.0" x2="1400.0" y2="1154.0" stroke="#000" stroke-width="2.8" />
<line x1="0.0" y1="1556.0" x2="1556.0" y2="0.0" stroke="#000" stroke-width="2.8" />
<line x1="0.0" y1="-202.5" x2="1400.0" y2="1197.5" stroke="#000" stroke-width="2.8" />
<line x1="0.0" y1="1599.5" x2="1599.5" y2="0.0" stroke="#000" stroke-width="2.8" />
<line x1="0.0" y1="-159.0" x2="1400.0" y2="1241.0" stroke="#000" stroke-width="2.8" />
<line x1="0.0" y1="1643.0" x2="1643.0" y2="0.0" stroke="#000" stroke-width="2.8" />
<line x1="0.0" y1="-115.5" x2="1400.0" y2="1284.5" stroke="#000" stroke-width="2.8" />
<line x1="0.0" y1="1686.5" x2="1686.5" y2="0.0" stroke="#000" stroke-width="2.8" />
<line x1="0.0" y1="-72.0" x2="1400.0" y2="1328.0" stroke="#000" stroke-width="2.8" />
<line x1="0.0" y1="1730.0" x2="1730.0" y2="0.0" stroke="#000" stroke-width="2.8" />
<line x1="0.0" y1="-28.5" x2="1400.0" y2="1371.5" stroke="#000" stroke-width="2.8" />
<line x1="0.0" y1="1773.5" x2="1773.5" y2="0.0" stroke="#000" stroke-width="2.8" />
<line x1="0.0" y1="15.0" x2="1400.0" y2="1415.0" stroke="#000" stroke-width="2.8" />
<line x1="0.0" y1="1817.0" x2="1817.0" y2="0.0" stroke="#000" stroke-width="2.8" />
<line x1="0.0" y1="58.5" x2="1400.0" y2="1458.5" stroke="#000" stroke-width="2.8" />
<line x1="0.0" y1="1860.5" x2="1860.5" y2="0.0" stroke="#000" stroke-width="2.8" />
<line x1="0.0" y1="102.0" x2="1400.0" y2="1502.0" stroke="#000" stroke-width="2.8" />
<line x1="0.0" y1="1904.0" x2="1904.0" y2="0.0" stroke="#000" stroke-width="2.8" />
<line x1="0.0" y1="145.5" x2="1400.0" y2="1545.5" stroke="#000" stroke-width="2.8" />
<line x1="0.0" y1="1947.5" x2="1947.5" y2="0.0" stroke="#000" stroke-width="2.8" />
<line x1="0.0" y1="189.0" x2="1400.0" y2="1589.0" stroke="#000" stroke-width="2.8" />
<line x1="0.0" y1="1991.0" x2="1991.0" y2="0.0" stroke="#000" stroke-width="2.8" />
<line x1="0.0" y1="232.5" x2="1400.0" y2="1632.5" stroke="#000" stroke-width="2.8" />
<line x1="0.0" y1="2034.5" x2="2034.5" y2="0.0" stroke="#000" stroke-width="2.8" />
<line x1="0.0" y1="276.0" x2="1400.0" y2="1676.0" stroke="#000" stroke-width="2.8" />
<line x1="0.0" y1="2078.0" x2="2078.0" y2="0.0" stroke="#000" stroke-width="2.8" />
<line x1="0.0" y1="319.5" x2="1400.0" y2="1719.5" stroke="#000" stroke-width="2.8" />
<line x1="0.0" y1="2121.5" x2="2121.5" y2="0.0" stroke="#000" stroke-width="2.8" />
<line x1="0.0" y1="363.0" x2="1400.0" y2="1763.0" stroke="#000" stroke-width="2.8" />
<line x1="0.0" y1="2165.0" x2="2165.0" y2="0.0" stroke="#000" stroke-width="2.8" />
<line x1="0.0" y1="406.5" x2="1400.0" y2="1806.5" stroke="#000" stroke-width="2.8" />
<line x1="0.0" y1="2208.5" x2="2208.5" y2="0.0" stroke="#000" stroke-width="2.8" />
<line x1="0.0" y1="450.0" x2="1400.0" y2="1850.0" stroke="#000" stroke-width="2.8" />
<line x1="0.0" y1="2252.0" x2="2252.0" y2="0.0" stroke="#000" stroke-width="2.8" />
<line x1="0.0" y1="493.5" x2="1400.0" y2="1893.5" stroke="#000" stroke-width="2.8" />
<line x1="0.0" y1="2295.5" x2="2295.5" y2="0.0" stroke="#000" stroke-width="2.8" />
<line x1="0.0" y1="537.0" x2="1400.0" y2="1937.0" stroke="#000" stroke-width="2.8" />
<line x1="0.0" y1="2339.0" x2="2339.0" y2="0.0" stroke="#000" stroke-width="2.8" />
<line x1="0.0" y1="580.5" x2="1400.0" y2="1980.5" stroke="#000" stroke-width="2.8" />
<line x1="0.0" y1="2382.5" x2="2382.5" y2="0.0" stroke="#000" stroke-width="2.8" />
<line x1="0.0" y1="624.0" x2="1400.0" y2="2024.0" stroke="#000" stroke-width="2.8" />
<line x1="0.0" y1="2426.0" x2="2426.0" y2="0.0" stroke="#000" stroke-width="2.8" />
<line x1="0.0" y1="667.5" x2="1400.0" y2="2067.5" stroke="#000" stroke-width="2.8" />
<line x1="0.0" y1="2469.5" x2="2469.5" y2="0.0" stroke="#000" stroke-width="2.8" />
</g>
<polyline points="356.0,56.4 970.0,56.4 979.3,60.0 990.0,65.3 998.0,71.3 1005.3,80.0 1015.3,95.3 1015.3,158.0 1010.0,166.0 1004.0,169.5 990.4,170.0 985.5,164.0 978.3,155.0 955.0,153.3 947.0,151.3 921.0,151.3 917.0,152.2 914.5,154.5 913.0,158.0 912.5,165.0 912.5,194.6 736.3,194.6 731.4,192.8 726.5,191.1 721.6,189.5 716.6,188.0 711.6,186.6 706.6,185.4 701.5,184.2 696.4,183.2 691.3,182.3 686.2,181.5 681.0,180.8 675.9,180.3 670.7,179.8 665.5,179.5 660.3,179.3 655.2,179.2 650.0,179.3 644.8,179.4 639.6,179.7 634.4,180.1 629.3,180.6 624.1,181.2 619.0,181.9 613.9,182.8 608.8,183.7 603.7,184.8 598.6,186.0 593.6,187.4 588.6,188.8 583.7,190.3 578.8,192.0 573.9,193.7 569.1,195.6 564.3,197.6 559.5,199.7 554.8,201.9 550.2,204.2 545.6,206.6 541.0,209.2 536.6,211.8 532.2,214.5 527.8,217.3 523.5,220.2 519.3,223.3 515.1,226.4 511.1,229.6 507.1,232.9 503.1,236.3 499.3,239.7 495.5,243.3 491.8,247.0 488.2,250.7 484.7,254.5 481.3,258.4 477.9,262.4 474.7,266.4 471.5,270.5 468.5,274.7 465.5,279.0 462.6,283.3 369.0,283.3 369.0,221.0 368.2,216.5 365.5,213.2 361.0,211.5 345.0,211.5 339.0,215.0 335.0,214.0 318.0,214.0 312.0,216.5 303.0,227.0 297.0,227.0 285.8,217.0 285.8,116.7 301.7,91.7 311.7,80.0 324.2,69.2 338.3,60.8 356.0,56.4" fill="none" stroke="#000" stroke-width="5.3" stroke-linejoin="round" stroke-linecap="round" />
<polyline points="319.0,617.5 570.0,611.5 597.0,614.0 601.1,614.8 605.2,615.6 609.3,616.2 613.5,616.8 617.6,617.3 621.8,617.8 626.0,618.1 630.1,618.4 634.3,618.6 638.5,618.7 642.7,618.8 646.9,618.8 651.1,618.7 655.2,618.5 659.4,618.3 663.6,618.0 667.7,617.6 671.9,617.1 676.0,616.6 680.2,616.0 684.3,615.3 688.4,614.5 692.5,613.7 696.6,612.8 700.7,611.8 704.7,610.7 708.7,609.6 712.8,608.4 716.7,607.1 720.7,605.8 724.6,604.4 728.6,602.9 732.4,601.3 736.3,599.7 740.1,598.0 743.9,596.3 747.7,594.4 751.4,592.5 755.1,590.6 758.8,588.6 762.4,586.5 766.0,584.3 769.5,582.1 773.0,579.8 776.5,577.4 779.9,575.0 783.3,572.6 786.6,570.0 789.9,567.5 793.1,564.8 796.3,562.1 799.5,559.3 802.5,556.5 805.6,553.6 808.6,550.7 811.5,547.7 814.4,544.7 817.2,541.6 820.0,538.5 822.7,535.3 833.3,528.7 982.0,529.3 986.8,531.1 991.2,533.1 995.2,535.5 998.8,538.1 1002.0,541.0 1004.8,544.2 1007.3,547.7 1009.3,551.5 1010.9,555.6 1012.2,560.0 1012.2,684.3 1009.8,692.2 1006.3,699.6 1001.9,706.4 996.5,712.7 990.0,718.6 982.6,723.9 974.2,728.7 964.7,733.0 954.3,736.7 942.9,740.0 330.0,740.0 322.9,737.7 316.3,735.0 310.3,732.0 304.9,728.6 300.0,724.8 295.7,720.6 291.9,716.0 288.7,711.0 286.1,705.7 284.0,700.0 284.0,647.5 286.2,643.6 288.8,639.9 291.6,636.4 294.6,633.1 298.0,630.0 301.6,627.1 305.6,624.4 309.8,621.9 314.2,619.6 319.0,617.5" fill="none" stroke="#000" stroke-width="5.3" stroke-linejoin="round" stroke-linecap="round" />
<circle cx="648.7" cy="399.5" r="216.6" fill="none" stroke="#000" stroke-width="5.3"/>
<line x1="285.8" y1="117.0" x2="285.8" y2="646.0" stroke="#000" stroke-width="5.3" />
<line x1="284.0" y1="646.0" x2="284.0" y2="1044.0" stroke="#000" stroke-width="5.3" />
<line x1="1015.0" y1="95.0" x2="1015.0" y2="1044.0" stroke="#000" stroke-width="5.3" />
<line x1="284.2" y1="1044.0" x2="284.2" y2="1168.0" stroke="#000" stroke-width="2.9" />
<line x1="1015.0" y1="1044.0" x2="1015.0" y2="1168.0" stroke="#000" stroke-width="2.9" />
<line x1="328.0" y1="739.0" x2="328.0" y2="1044.0" stroke="#000" stroke-width="5.3" stroke-linecap="round"/>
<line x1="942.7" y1="739.0" x2="942.7" y2="1044.0" stroke="#000" stroke-width="5.3" stroke-linecap="round"/>
<path d="M364,617 L364,305 Q364,295 374,295 L417.5,294 L452,297" fill="none" stroke="#000" stroke-width="5.3" stroke-linejoin="round" stroke-linecap="round" />
<line x1="454.0" y1="283.0" x2="454.0" y2="297.0" stroke="#000" stroke-width="5.3" />
<line x1="417.5" y1="293.0" x2="417.5" y2="444.5" stroke="#000" stroke-width="5.3" />
<polyline points="365.0,412.0 387.0,443.0 434.7,446.7" fill="none" stroke="#000" stroke-width="5.3" stroke-linejoin="round" stroke-linecap="round" />
<path d="M935.5,527 L935.5,306 Q935.5,294.3 923,294.3 L879,294.3 L844,298.4" fill="none" stroke="#000" stroke-width="5.3" stroke-linejoin="round" stroke-linecap="round" />
<line x1="879.0" y1="294.0" x2="879.0" y2="443.0" stroke="#000" stroke-width="5.3" />
<polyline points="863.5,444.0 879.0,443.0 907.0,443.0 910.0,441.5 933.5,405.0" fill="none" stroke="#000" stroke-width="5.3" stroke-linejoin="round" stroke-linecap="round" />
<rect x="908" y="194" width="9" height="101" fill="#000"/>
<defs>
<clipPath id="sr1"><polygon points="913.0,176.7 923.3,168.7 940.0,168.7 950.7,164.0 970.7,158.7 975.0,153.3 975.0,164.0 957.3,182.7 956.0,192.0 961.3,196.0 977.3,202.7 993.3,208.0 1004.0,216.0 1004.0,250.0 992.0,250.0 992.0,236.0 980.0,214.7 957.0,205.3 926.5,205.3 926.5,222.7 913.0,222.7"/></clipPath>
<clipPath id="sr2"><polygon points="965.5,432.0 939.5,470.7 937.9,480.4 939.0,502.0 947.0,513.0 958.0,521.6 966.6,521.6 967.7,507.5 959.0,503.2 954.7,494.5 955.8,485.8 963.3,480.4 974.2,477.7 985.0,476.0 994.8,470.7 996.0,450.0 990.4,443.0 974.2,466.3 950.3,466.3"/></clipPath>
<clipPath id="sl1"><polygon points="318.0,218.0 340.0,224.0 348.0,227.0 363.0,227.0 369.0,232.0 369.0,281.0 358.0,278.0 358.0,263.0 337.5,260.0 334.0,256.0 338.0,251.0 336.0,242.0 317.0,225.0"/></clipPath>
<clipPath id="sl2"><polygon points="302.5,520.0 309.0,520.0 324.0,551.7 346.7,551.7 331.0,519.0 361.0,555.0 360.0,563.3 360.0,584.0 359.2,592.5 353.3,599.2 341.7,606.7 331.7,606.7 331.2,595.0 338.3,590.0 343.3,584.2 344.2,577.5 340.0,570.0 331.7,566.7 313.3,563.3 304.2,556.7 302.5,550.0"/></clipPath>
</defs>
<g clip-path="url(#sr1)">
<line x1="0.0" y1="249.0" x2="249.0" y2="0.0" stroke="#000" stroke-width="2.5" />
<line x1="0.0" y1="270.5" x2="270.5" y2="0.0" stroke="#000" stroke-width="2.5" />
<line x1="0.0" y1="292.0" x2="292.0" y2="0.0" stroke="#000" stroke-width="2.5" />
<line x1="0.0" y1="313.5" x2="313.5" y2="0.0" stroke="#000" stroke-width="2.5" />
<line x1="0.0" y1="335.0" x2="335.0" y2="0.0" stroke="#000" stroke-width="2.5" />
<line x1="0.0" y1="356.5" x2="356.5" y2="0.0" stroke="#000" stroke-width="2.5" />
<line x1="0.0" y1="378.0" x2="378.0" y2="0.0" stroke="#000" stroke-width="2.5" />
<line x1="0.0" y1="399.5" x2="399.5" y2="0.0" stroke="#000" stroke-width="2.5" />
<line x1="0.0" y1="421.0" x2="421.0" y2="0.0" stroke="#000" stroke-width="2.5" />
<line x1="0.0" y1="442.5" x2="442.5" y2="0.0" stroke="#000" stroke-width="2.5" />
<line x1="0.0" y1="464.0" x2="464.0" y2="0.0" stroke="#000" stroke-width="2.5" />
<line x1="0.0" y1="485.5" x2="485.5" y2="0.0" stroke="#000" stroke-width="2.5" />
<line x1="0.0" y1="507.0" x2="507.0" y2="0.0" stroke="#000" stroke-width="2.5" />
<line x1="0.0" y1="528.5" x2="528.5" y2="0.0" stroke="#000" stroke-width="2.5" />
<line x1="0.0" y1="550.0" x2="550.0" y2="0.0" stroke="#000" stroke-width="2.5" />
<line x1="0.0" y1="571.5" x2="571.5" y2="0.0" stroke="#000" stroke-width="2.5" />
<line x1="0.0" y1="593.0" x2="593.0" y2="0.0" stroke="#000" stroke-width="2.5" />
<line x1="0.0" y1="614.5" x2="614.5" y2="0.0" stroke="#000" stroke-width="2.5" />
<line x1="0.0" y1="636.0" x2="636.0" y2="0.0" stroke="#000" stroke-width="2.5" />
<line x1="0.0" y1="657.5" x2="657.5" y2="0.0" stroke="#000" stroke-width="2.5" />
<line x1="0.0" y1="679.0" x2="679.0" y2="0.0" stroke="#000" stroke-width="2.5" />
<line x1="0.0" y1="700.5" x2="700.5" y2="0.0" stroke="#000" stroke-width="2.5" />
<line x1="0.0" y1="722.0" x2="722.0" y2="0.0" stroke="#000" stroke-width="2.5" />
<line x1="0.0" y1="743.5" x2="743.5" y2="0.0" stroke="#000" stroke-width="2.5" />
<line x1="0.0" y1="765.0" x2="765.0" y2="0.0" stroke="#000" stroke-width="2.5" />
<line x1="0.0" y1="786.5" x2="786.5" y2="0.0" stroke="#000" stroke-width="2.5" />
<line x1="0.0" y1="808.0" x2="808.0" y2="0.0" stroke="#000" stroke-width="2.5" />
<line x1="0.0" y1="829.5" x2="829.5" y2="0.0" stroke="#000" stroke-width="2.5" />
<line x1="0.0" y1="851.0" x2="851.0" y2="0.0" stroke="#000" stroke-width="2.5" />
<line x1="0.0" y1="872.5" x2="872.5" y2="0.0" stroke="#000" stroke-width="2.5" />
<line x1="0.0" y1="894.0" x2="894.0" y2="0.0" stroke="#000" stroke-width="2.5" />
<line x1="0.0" y1="915.5" x2="915.5" y2="0.0" stroke="#000" stroke-width="2.5" />
<line x1="0.0" y1="937.0" x2="937.0" y2="0.0" stroke="#000" stroke-width="2.5" />
<line x1="0.0" y1="958.5" x2="958.5" y2="0.0" stroke="#000" stroke-width="2.5" />
<line x1="0.0" y1="980.0" x2="980.0" y2="0.0" stroke="#000" stroke-width="2.5" />
<line x1="0.0" y1="1001.5" x2="1001.5" y2="0.0" stroke="#000" stroke-width="2.5" />
<line x1="0.0" y1="1023.0" x2="1023.0" y2="0.0" stroke="#000" stroke-width="2.5" />
<line x1="0.0" y1="1044.5" x2="1044.5" y2="0.0" stroke="#000" stroke-width="2.5" />
<line x1="0.0" y1="1066.0" x2="1066.0" y2="0.0" stroke="#000" stroke-width="2.5" />
<line x1="0.0" y1="1087.5" x2="1087.5" y2="0.0" stroke="#000" stroke-width="2.5" />
<line x1="0.0" y1="1109.0" x2="1109.0" y2="0.0" stroke="#000" stroke-width="2.5" />
<line x1="0.0" y1="1130.5" x2="1130.5" y2="0.0" stroke="#000" stroke-width="2.5" />
<line x1="0.0" y1="1152.0" x2="1152.0" y2="0.0" stroke="#000" stroke-width="2.5" />
<line x1="0.0" y1="1173.5" x2="1173.5" y2="0.0" stroke="#000" stroke-width="2.5" />
<line x1="0.0" y1="1195.0" x2="1195.0" y2="0.0" stroke="#000" stroke-width="2.5" />
<line x1="0.0" y1="1216.5" x2="1216.5" y2="0.0" stroke="#000" stroke-width="2.5" />
<line x1="0.0" y1="1238.0" x2="1238.0" y2="0.0" stroke="#000" stroke-width="2.5" />
<line x1="0.0" y1="1259.5" x2="1259.5" y2="0.0" stroke="#000" stroke-width="2.5" />
<line x1="0.0" y1="1281.0" x2="1281.0" y2="0.0" stroke="#000" stroke-width="2.5" />
<line x1="0.0" y1="1302.5" x2="1302.5" y2="0.0" stroke="#000" stroke-width="2.5" />
<line x1="0.0" y1="1324.0" x2="1324.0" y2="0.0" stroke="#000" stroke-width="2.5" />
<line x1="0.0" y1="1345.5" x2="1345.5" y2="0.0" stroke="#000" stroke-width="2.5" />
<line x1="0.0" y1="1367.0" x2="1367.0" y2="0.0" stroke="#000" stroke-width="2.5" />
<line x1="0.0" y1="1388.5" x2="1388.5" y2="0.0" stroke="#000" stroke-width="2.5" />
<line x1="0.0" y1="1410.0" x2="1410.0" y2="0.0" stroke="#000" stroke-width="2.5" />
<line x1="0.0" y1="1431.5" x2="1431.5" y2="0.0" stroke="#000" stroke-width="2.5" />
<line x1="0.0" y1="1453.0" x2="1453.0" y2="0.0" stroke="#000" stroke-width="2.5" />
<line x1="0.0" y1="1474.5" x2="1474.5" y2="0.0" stroke="#000" stroke-width="2.5" />
<line x1="0.0" y1="1496.0" x2="1496.0" y2="0.0" stroke="#000" stroke-width="2.5" />
<line x1="0.0" y1="1517.5" x2="1517.5" y2="0.0" stroke="#000" stroke-width="2.5" />
<line x1="0.0" y1="1539.0" x2="1539.0" y2="0.0" stroke="#000" stroke-width="2.5" />
<line x1="0.0" y1="1560.5" x2="1560.5" y2="0.0" stroke="#000" stroke-width="2.5" />
<line x1="0.0" y1="1582.0" x2="1582.0" y2="0.0" stroke="#000" stroke-width="2.5" />
<line x1="0.0" y1="1603.5" x2="1603.5" y2="0.0" stroke="#000" stroke-width="2.5" />
<line x1="0.0" y1="1625.0" x2="1625.0" y2="0.0" stroke="#000" stroke-width="2.5" />
<line x1="0.0" y1="1646.5" x2="1646.5" y2="0.0" stroke="#000" stroke-width="2.5" />
<line x1="0.0" y1="1668.0" x2="1668.0" y2="0.0" stroke="#000" stroke-width="2.5" />
<line x1="0.0" y1="1689.5" x2="1689.5" y2="0.0" stroke="#000" stroke-width="2.5" />
<line x1="0.0" y1="1711.0" x2="1711.0" y2="0.0" stroke="#000" stroke-width="2.5" />
<line x1="0.0" y1="1732.5" x2="1732.5" y2="0.0" stroke="#000" stroke-width="2.5" />
<line x1="0.0" y1="1754.0" x2="1754.0" y2="0.0" stroke="#000" stroke-width="2.5" />
<line x1="0.0" y1="1775.5" x2="1775.5" y2="0.0" stroke="#000" stroke-width="2.5" />
<line x1="0.0" y1="1797.0" x2="1797.0" y2="0.0" stroke="#000" stroke-width="2.5" />
<line x1="0.0" y1="1818.5" x2="1818.5" y2="0.0" stroke="#000" stroke-width="2.5" />
<line x1="0.0" y1="1840.0" x2="1840.0" y2="0.0" stroke="#000" stroke-width="2.5" />
<line x1="0.0" y1="1861.5" x2="1861.5" y2="0.0" stroke="#000" stroke-width="2.5" />
<line x1="0.0" y1="1883.0" x2="1883.0" y2="0.0" stroke="#000" stroke-width="2.5" />
<line x1="0.0" y1="1904.5" x2="1904.5" y2="0.0" stroke="#000" stroke-width="2.5" />
<line x1="0.0" y1="1926.0" x2="1926.0" y2="0.0" stroke="#000" stroke-width="2.5" />
<line x1="0.0" y1="1947.5" x2="1947.5" y2="0.0" stroke="#000" stroke-width="2.5" />
</g>
<g clip-path="url(#sr2)">
<line x1="0.0" y1="565.0" x2="565.0" y2="0.0" stroke="#000" stroke-width="2.5" />
<line x1="0.0" y1="586.5" x2="586.5" y2="0.0" stroke="#000" stroke-width="2.5" />
<line x1="0.0" y1="608.0" x2="608.0" y2="0.0" stroke="#000" stroke-width="2.5" />
<line x1="0.0" y1="629.5" x2="629.5" y2="0.0" stroke="#000" stroke-width="2.5" />
<line x1="0.0" y1="651.0" x2="651.0" y2="0.0" stroke="#000" stroke-width="2.5" />
<line x1="0.0" y1="672.5" x2="672.5" y2="0.0" stroke="#000" stroke-width="2.5" />
<line x1="0.0" y1="694.0" x2="694.0" y2="0.0" stroke="#000" stroke-width="2.5" />
<line x1="0.0" y1="715.5" x2="715.5" y2="0.0" stroke="#000" stroke-width="2.5" />
<line x1="0.0" y1="737.0" x2="737.0" y2="0.0" stroke="#000" stroke-width="2.5" />
<line x1="0.0" y1="758.5" x2="758.5" y2="0.0" stroke="#000" stroke-width="2.5" />
<line x1="0.0" y1="780.0" x2="780.0" y2="0.0" stroke="#000" stroke-width="2.5" />
<line x1="0.0" y1="801.5" x2="801.5" y2="0.0" stroke="#000" stroke-width="2.5" />
<line x1="0.0" y1="823.0" x2="823.0" y2="0.0" stroke="#000" stroke-width="2.5" />
<line x1="0.0" y1="844.5" x2="844.5" y2="0.0" stroke="#000" stroke-width="2.5" />
<line x1="0.0" y1="866.0" x2="866.0" y2="0.0" stroke="#000" stroke-width="2.5" />
<line x1="0.0" y1="887.5" x2="887.5" y2="0.0" stroke="#000" stroke-width="2.5" />
<line x1="0.0" y1="909.0" x2="909.0" y2="0.0" stroke="#000" stroke-width="2.5" />
<line x1="0.0" y1="930.5" x2="930.5" y2="0.0" stroke="#000" stroke-width="2.5" />
<line x1="0.0" y1="952.0" x2="952.0" y2="0.0" stroke="#000" stroke-width="2.5" />
<line x1="0.0" y1="973.5" x2="973.5" y2="0.0" stroke="#000" stroke-width="2.5" />
<line x1="0.0" y1="995.0" x2="995.0" y2="0.0" stroke="#000" stroke-width="2.5" />
<line x1="0.0" y1="1016.5" x2="1016.5" y2="0.0" stroke="#000" stroke-width="2.5" />
<line x1="0.0" y1="1038.0" x2="1038.0" y2="0.0" stroke="#000" stroke-width="2.5" />
<line x1="0.0" y1="1059.5" x2="1059.5" y2="0.0" stroke="#000" stroke-width="2.5" />
<line x1="0.0" y1="1081.0" x2="1081.0" y2="0.0" stroke="#000" stroke-width="2.5" />
<line x1="0.0" y1="1102.5" x2="1102.5" y2="0.0" stroke="#000" stroke-width="2.5" />
<line x1="0.0" y1="1124.0" x2="1124.0" y2="0.0" stroke="#000" stroke-width="2.5" />
<line x1="0.0" y1="1145.5" x2="1145.5" y2="0.0" stroke="#000" stroke-width="2.5" />
<line x1="0.0" y1="1167.0" x2="1167.0" y2="0.0" stroke="#000" stroke-width="2.5" />
<line x1="0.0" y1="1188.5" x2="1188.5" y2="0.0" stroke="#000" stroke-width="2.5" />
<line x1="0.0" y1="1210.0" x2="1210.0" y2="0.0" stroke="#000" stroke-width="2.5" />
<line x1="0.0" y1="1231.5" x2="1231.5" y2="0.0" stroke="#000" stroke-width="2.5" />
<line x1="0.0" y1="1253.0" x2="1253.0" y2="0.0" stroke="#000" stroke-width="2.5" />
<line x1="0.0" y1="1274.5" x2="1274.5" y2="0.0" stroke="#000" stroke-width="2.5" />
<line x1="0.0" y1="1296.0" x2="1296.0" y2="0.0" stroke="#000" stroke-width="2.5" />
<line x1="0.0" y1="1317.5" x2="1317.5" y2="0.0" stroke="#000" stroke-width="2.5" />
<line x1="0.0" y1="1339.0" x2="1339.0" y2="0.0" stroke="#000" stroke-width="2.5" />
<line x1="0.0" y1="1360.5" x2="1360.5" y2="0.0" stroke="#000" stroke-width="2.5" />
<line x1="0.0" y1="1382.0" x2="1382.0" y2="0.0" stroke="#000" stroke-width="2.5" />
<line x1="0.0" y1="1403.5" x2="1403.5" y2="0.0" stroke="#000" stroke-width="2.5" />
<line x1="0.0" y1="1425.0" x2="1425.0" y2="0.0" stroke="#000" stroke-width="2.5" />
<line x1="0.0" y1="1446.5" x2="1446.5" y2="0.0" stroke="#000" stroke-width="2.5" />
<line x1="0.0" y1="1468.0" x2="1468.0" y2="0.0" stroke="#000" stroke-width="2.5" />
<line x1="0.0" y1="1489.5" x2="1489.5" y2="0.0" stroke="#000" stroke-width="2.5" />
<line x1="0.0" y1="1511.0" x2="1511.0" y2="0.0" stroke="#000" stroke-width="2.5" />
<line x1="0.0" y1="1532.5" x2="1532.5" y2="0.0" stroke="#000" stroke-width="2.5" />
<line x1="0.0" y1="1554.0" x2="1554.0" y2="0.0" stroke="#000" stroke-width="2.5" />
<line x1="0.0" y1="1575.5" x2="1575.5" y2="0.0" stroke="#000" stroke-width="2.5" />
<line x1="0.0" y1="1597.0" x2="1597.0" y2="0.0" stroke="#000" stroke-width="2.5" />
<line x1="0.0" y1="1618.5" x2="1618.5" y2="0.0" stroke="#000" stroke-width="2.5" />
<line x1="0.0" y1="1640.0" x2="1640.0" y2="0.0" stroke="#000" stroke-width="2.5" />
<line x1="0.0" y1="1661.5" x2="1661.5" y2="0.0" stroke="#000" stroke-width="2.5" />
<line x1="0.0" y1="1683.0" x2="1683.0" y2="0.0" stroke="#000" stroke-width="2.5" />
<line x1="0.0" y1="1704.5" x2="1704.5" y2="0.0" stroke="#000" stroke-width="2.5" />
<line x1="0.0" y1="1726.0" x2="1726.0" y2="0.0" stroke="#000" stroke-width="2.5" />
<line x1="0.0" y1="1747.5" x2="1747.5" y2="0.0" stroke="#000" stroke-width="2.5" />
<line x1="0.0" y1="1769.0" x2="1769.0" y2="0.0" stroke="#000" stroke-width="2.5" />
<line x1="0.0" y1="1790.5" x2="1790.5" y2="0.0" stroke="#000" stroke-width="2.5" />
<line x1="0.0" y1="1812.0" x2="1812.0" y2="0.0" stroke="#000" stroke-width="2.5" />
<line x1="0.0" y1="1833.5" x2="1833.5" y2="0.0" stroke="#000" stroke-width="2.5" />
<line x1="0.0" y1="1855.0" x2="1855.0" y2="0.0" stroke="#000" stroke-width="2.5" />
<line x1="0.0" y1="1876.5" x2="1876.5" y2="0.0" stroke="#000" stroke-width="2.5" />
<line x1="0.0" y1="1898.0" x2="1898.0" y2="0.0" stroke="#000" stroke-width="2.5" />
<line x1="0.0" y1="1919.5" x2="1919.5" y2="0.0" stroke="#000" stroke-width="2.5" />
<line x1="0.0" y1="1941.0" x2="1941.0" y2="0.0" stroke="#000" stroke-width="2.5" />
<line x1="0.0" y1="1962.5" x2="1962.5" y2="0.0" stroke="#000" stroke-width="2.5" />
<line x1="0.0" y1="1984.0" x2="1984.0" y2="0.0" stroke="#000" stroke-width="2.5" />
<line x1="0.0" y1="2005.5" x2="2005.5" y2="0.0" stroke="#000" stroke-width="2.5" />
<line x1="0.0" y1="2027.0" x2="2027.0" y2="0.0" stroke="#000" stroke-width="2.5" />
<line x1="0.0" y1="2048.5" x2="2048.5" y2="0.0" stroke="#000" stroke-width="2.5" />
<line x1="0.0" y1="2070.0" x2="2070.0" y2="0.0" stroke="#000" stroke-width="2.5" />
<line x1="0.0" y1="2091.5" x2="2091.5" y2="0.0" stroke="#000" stroke-width="2.5" />
<line x1="0.0" y1="2113.0" x2="2113.0" y2="0.0" stroke="#000" stroke-width="2.5" />
<line x1="0.0" y1="2134.5" x2="2134.5" y2="0.0" stroke="#000" stroke-width="2.5" />
<line x1="0.0" y1="2156.0" x2="2156.0" y2="0.0" stroke="#000" stroke-width="2.5" />
<line x1="0.0" y1="2177.5" x2="2177.5" y2="0.0" stroke="#000" stroke-width="2.5" />
<line x1="0.0" y1="2199.0" x2="2199.0" y2="0.0" stroke="#000" stroke-width="2.5" />
<line x1="0.0" y1="2220.5" x2="2220.5" y2="0.0" stroke="#000" stroke-width="2.5" />
<line x1="0.0" y1="2242.0" x2="2242.0" y2="0.0" stroke="#000" stroke-width="2.5" />
<line x1="0.0" y1="2263.5" x2="2263.5" y2="0.0" stroke="#000" stroke-width="2.5" />
</g>
<g clip-path="url(#sl1)">
<line x1="0.0" y1="-306.0" x2="-306.0" y2="0.0" stroke="#000" stroke-width="2.5" />
<line x1="0.0" y1="-284.5" x2="-284.5" y2="0.0" stroke="#000" stroke-width="2.5" />
<line x1="0.0" y1="-263.0" x2="-263.0" y2="0.0" stroke="#000" stroke-width="2.5" />
<line x1="0.0" y1="-241.5" x2="-241.5" y2="0.0" stroke="#000" stroke-width="2.5" />
<line x1="0.0" y1="-220.0" x2="-220.0" y2="0.0" stroke="#000" stroke-width="2.5" />
<line x1="0.0" y1="-198.5" x2="-198.5" y2="0.0" stroke="#000" stroke-width="2.5" />
<line x1="0.0" y1="-177.0" x2="-177.0" y2="0.0" stroke="#000" stroke-width="2.5" />
<line x1="0.0" y1="-155.5" x2="-155.5" y2="0.0" stroke="#000" stroke-width="2.5" />
<line x1="0.0" y1="-134.0" x2="-134.0" y2="0.0" stroke="#000" stroke-width="2.5" />
<line x1="0.0" y1="-112.5" x2="-112.5" y2="0.0" stroke="#000" stroke-width="2.5" />
<line x1="0.0" y1="-91.0" x2="-91.0" y2="0.0" stroke="#000" stroke-width="2.5" />
<line x1="0.0" y1="-69.5" x2="-69.5" y2="0.0" stroke="#000" stroke-width="2.5" />
<line x1="0.0" y1="-48.0" x2="-48.0" y2="0.0" stroke="#000" stroke-width="2.5" />
<line x1="0.0" y1="-26.5" x2="-26.5" y2="0.0" stroke="#000" stroke-width="2.5" />
<line x1="0.0" y1="-5.0" x2="-5.0" y2="0.0" stroke="#000" stroke-width="2.5" />
<line x1="0.0" y1="16.5" x2="16.5" y2="0.0" stroke="#000" stroke-width="2.5" />
<line x1="0.0" y1="38.0" x2="38.0" y2="0.0" stroke="#000" stroke-width="2.5" />
<line x1="0.0" y1="59.5" x2="59.5" y2="0.0" stroke="#000" stroke-width="2.5" />
<line x1="0.0" y1="81.0" x2="81.0" y2="0.0" stroke="#000" stroke-width="2.5" />
<line x1="0.0" y1="102.5" x2="102.5" y2="0.0" stroke="#000" stroke-width="2.5" />
<line x1="0.0" y1="124.0" x2="124.0" y2="0.0" stroke="#000" stroke-width="2.5" />
<line x1="0.0" y1="145.5" x2="145.5" y2="0.0" stroke="#000" stroke-width="2.5" />
<line x1="0.0" y1="167.0" x2="167.0" y2="0.0" stroke="#000" stroke-width="2.5" />
<line x1="0.0" y1="188.5" x2="188.5" y2="0.0" stroke="#000" stroke-width="2.5" />
<line x1="0.0" y1="210.0" x2="210.0" y2="0.0" stroke="#000" stroke-width="2.5" />
<line x1="0.0" y1="231.5" x2="231.5" y2="0.0" stroke="#000" stroke-width="2.5" />
<line x1="0.0" y1="253.0" x2="253.0" y2="0.0" stroke="#000" stroke-width="2.5" />
<line x1="0.0" y1="274.5" x2="274.5" y2="0.0" stroke="#000" stroke-width="2.5" />
<line x1="0.0" y1="296.0" x2="296.0" y2="0.0" stroke="#000" stroke-width="2.5" />
<line x1="0.0" y1="317.5" x2="317.5" y2="0.0" stroke="#000" stroke-width="2.5" />
<line x1="0.0" y1="339.0" x2="339.0" y2="0.0" stroke="#000" stroke-width="2.5" />
<line x1="0.0" y1="360.5" x2="360.5" y2="0.0" stroke="#000" stroke-width="2.5" />
<line x1="0.0" y1="382.0" x2="382.0" y2="0.0" stroke="#000" stroke-width="2.5" />
<line x1="0.0" y1="403.5" x2="403.5" y2="0.0" stroke="#000" stroke-width="2.5" />
<line x1="0.0" y1="425.0" x2="425.0" y2="0.0" stroke="#000" stroke-width="2.5" />
<line x1="0.0" y1="446.5" x2="446.5" y2="0.0" stroke="#000" stroke-width="2.5" />
<line x1="0.0" y1="468.0" x2="468.0" y2="0.0" stroke="#000" stroke-width="2.5" />
<line x1="0.0" y1="489.5" x2="489.5" y2="0.0" stroke="#000" stroke-width="2.5" />
<line x1="0.0" y1="511.0" x2="511.0" y2="0.0" stroke="#000" stroke-width="2.5" />
<line x1="0.0" y1="532.5" x2="532.5" y2="0.0" stroke="#000" stroke-width="2.5" />
<line x1="0.0" y1="554.0" x2="554.0" y2="0.0" stroke="#000" stroke-width="2.5" />
<line x1="0.0" y1="575.5" x2="575.5" y2="0.0" stroke="#000" stroke-width="2.5" />
<line x1="0.0" y1="597.0" x2="597.0" y2="0.0" stroke="#000" stroke-width="2.5" />
<line x1="0.0" y1="618.5" x2="618.5" y2="0.0" stroke="#000" stroke-width="2.5" />
<line x1="0.0" y1="640.0" x2="640.0" y2="0.0" stroke="#000" stroke-width="2.5" />
<line x1="0.0" y1="661.5" x2="661.5" y2="0.0" stroke="#000" stroke-width="2.5" />
<line x1="0.0" y1="683.0" x2="683.0" y2="0.0" stroke="#000" stroke-width="2.5" />
<line x1="0.0" y1="704.5" x2="704.5" y2="0.0" stroke="#000" stroke-width="2.5" />
<line x1="0.0" y1="726.0" x2="726.0" y2="0.0" stroke="#000" stroke-width="2.5" />
<line x1="0.0" y1="747.5" x2="747.5" y2="0.0" stroke="#000" stroke-width="2.5" />
<line x1="0.0" y1="769.0" x2="769.0" y2="0.0" stroke="#000" stroke-width="2.5" />
<line x1="0.0" y1="790.5" x2="790.5" y2="0.0" stroke="#000" stroke-width="2.5" />
<line x1="0.0" y1="812.0" x2="812.0" y2="0.0" stroke="#000" stroke-width="2.5" />
<line x1="0.0" y1="833.5" x2="833.5" y2="0.0" stroke="#000" stroke-width="2.5" />
<line x1="0.0" y1="855.0" x2="855.0" y2="0.0" stroke="#000" stroke-width="2.5" />
<line x1="0.0" y1="876.5" x2="876.5" y2="0.0" stroke="#000" stroke-width="2.5" />
<line x1="0.0" y1="898.0" x2="898.0" y2="0.0" stroke="#000" stroke-width="2.5" />
<line x1="0.0" y1="919.5" x2="919.5" y2="0.0" stroke="#000" stroke-width="2.5" />
<line x1="0.0" y1="941.0" x2="941.0" y2="0.0" stroke="#000" stroke-width="2.5" />
<line x1="0.0" y1="962.5" x2="962.5" y2="0.0" stroke="#000" stroke-width="2.5" />
<line x1="0.0" y1="984.0" x2="984.0" y2="0.0" stroke="#000" stroke-width="2.5" />
<line x1="0.0" y1="1005.5" x2="1005.5" y2="0.0" stroke="#000" stroke-width="2.5" />
<line x1="0.0" y1="1027.0" x2="1027.0" y2="0.0" stroke="#000" stroke-width="2.5" />
<line x1="0.0" y1="1048.5" x2="1048.5" y2="0.0" stroke="#000" stroke-width="2.5" />
<line x1="0.0" y1="1070.0" x2="1070.0" y2="0.0" stroke="#000" stroke-width="2.5" />
<line x1="0.0" y1="1091.5" x2="1091.5" y2="0.0" stroke="#000" stroke-width="2.5" />
<line x1="0.0" y1="1113.0" x2="1113.0" y2="0.0" stroke="#000" stroke-width="2.5" />
<line x1="0.0" y1="1134.5" x2="1134.5" y2="0.0" stroke="#000" stroke-width="2.5" />
<line x1="0.0" y1="1156.0" x2="1156.0" y2="0.0" stroke="#000" stroke-width="2.5" />
<line x1="0.0" y1="1177.5" x2="1177.5" y2="0.0" stroke="#000" stroke-width="2.5" />
<line x1="0.0" y1="1199.0" x2="1199.0" y2="0.0" stroke="#000" stroke-width="2.5" />
<line x1="0.0" y1="1220.5" x2="1220.5" y2="0.0" stroke="#000" stroke-width="2.5" />
<line x1="0.0" y1="1242.0" x2="1242.0" y2="0.0" stroke="#000" stroke-width="2.5" />
<line x1="0.0" y1="1263.5" x2="1263.5" y2="0.0" stroke="#000" stroke-width="2.5" />
<line x1="0.0" y1="1285.0" x2="1285.0" y2="0.0" stroke="#000" stroke-width="2.5" />
<line x1="0.0" y1="1306.5" x2="1306.5" y2="0.0" stroke="#000" stroke-width="2.5" />
<line x1="0.0" y1="1328.0" x2="1328.0" y2="0.0" stroke="#000" stroke-width="2.5" />
<line x1="0.0" y1="1349.5" x2="1349.5" y2="0.0" stroke="#000" stroke-width="2.5" />
<line x1="0.0" y1="1371.0" x2="1371.0" y2="0.0" stroke="#000" stroke-width="2.5" />
<line x1="0.0" y1="1392.5" x2="1392.5" y2="0.0" stroke="#000" stroke-width="2.5" />
</g>
<g clip-path="url(#sl2)">
<line x1="0.0" y1="-10.0" x2="-10.0" y2="0.0" stroke="#000" stroke-width="2.5" />
<line x1="0.0" y1="11.5" x2="11.5" y2="0.0" stroke="#000" stroke-width="2.5" />
<line x1="0.0" y1="33.0" x2="33.0" y2="0.0" stroke="#000" stroke-width="2.5" />
<line x1="0.0" y1="54.5" x2="54.5" y2="0.0" stroke="#000" stroke-width="2.5" />
<line x1="0.0" y1="76.0" x2="76.0" y2="0.0" stroke="#000" stroke-width="2.5" />
<line x1="0.0" y1="97.5" x2="97.5" y2="0.0" stroke="#000" stroke-width="2.5" />
<line x1="0.0" y1="119.0" x2="119.0" y2="0.0" stroke="#000" stroke-width="2.5" />
<line x1="0.0" y1="140.5" x2="140.5" y2="0.0" stroke="#000" stroke-width="2.5" />
<line x1="0.0" y1="162.0" x2="162.0" y2="0.0" stroke="#000" stroke-width="2.5" />
<line x1="0.0" y1="183.5" x2="183.5" y2="0.0" stroke="#000" stroke-width="2.5" />
<line x1="0.0" y1="205.0" x2="205.0" y2="0.0" stroke="#000" stroke-width="2.5" />
<line x1="0.0" y1="226.5" x2="226.5" y2="0.0" stroke="#000" stroke-width="2.5" />
<line x1="0.0" y1="248.0" x2="248.0" y2="0.0" stroke="#000" stroke-width="2.5" />
<line x1="0.0" y1="269.5" x2="269.5" y2="0.0" stroke="#000" stroke-width="2.5" />
<line x1="0.0" y1="291.0" x2="291.0" y2="0.0" stroke="#000" stroke-width="2.5" />
<line x1="0.0" y1="312.5" x2="312.5" y2="0.0" stroke="#000" stroke-width="2.5" />
<line x1="0.0" y1="334.0" x2="334.0" y2="0.0" stroke="#000" stroke-width="2.5" />
<line x1="0.0" y1="355.5" x2="355.5" y2="0.0" stroke="#000" stroke-width="2.5" />
<line x1="0.0" y1="377.0" x2="377.0" y2="0.0" stroke="#000" stroke-width="2.5" />
<line x1="0.0" y1="398.5" x2="398.5" y2="0.0" stroke="#000" stroke-width="2.5" />
<line x1="0.0" y1="420.0" x2="420.0" y2="0.0" stroke="#000" stroke-width="2.5" />
<line x1="0.0" y1="441.5" x2="441.5" y2="0.0" stroke="#000" stroke-width="2.5" />
<line x1="0.0" y1="463.0" x2="463.0" y2="0.0" stroke="#000" stroke-width="2.5" />
<line x1="0.0" y1="484.5" x2="484.5" y2="0.0" stroke="#000" stroke-width="2.5" />
<line x1="0.0" y1="506.0" x2="506.0" y2="0.0" stroke="#000" stroke-width="2.5" />
<line x1="0.0" y1="527.5" x2="527.5" y2="0.0" stroke="#000" stroke-width="2.5" />
<line x1="0.0" y1="549.0" x2="549.0" y2="0.0" stroke="#000" stroke-width="2.5" />
<line x1="0.0" y1="570.5" x2="570.5" y2="0.0" stroke="#000" stroke-width="2.5" />
<line x1="0.0" y1="592.0" x2="592.0" y2="0.0" stroke="#000" stroke-width="2.5" />
<line x1="0.0" y1="613.5" x2="613.5" y2="0.0" stroke="#000" stroke-width="2.5" />
<line x1="0.0" y1="635.0" x2="635.0" y2="0.0" stroke="#000" stroke-width="2.5" />
<line x1="0.0" y1="656.5" x2="656.5" y2="0.0" stroke="#000" stroke-width="2.5" />
<line x1="0.0" y1="678.0" x2="678.0" y2="0.0" stroke="#000" stroke-width="2.5" />
<line x1="0.0" y1="699.5" x2="699.5" y2="0.0" stroke="#000" stroke-width="2.5" />
<line x1="0.0" y1="721.0" x2="721.0" y2="0.0" stroke="#000" stroke-width="2.5" />
<line x1="0.0" y1="742.5" x2="742.5" y2="0.0" stroke="#000" stroke-width="2.5" />
<line x1="0.0" y1="764.0" x2="764.0" y2="0.0" stroke="#000" stroke-width="2.5" />
<line x1="0.0" y1="785.5" x2="785.5" y2="0.0" stroke="#000" stroke-width="2.5" />
<line x1="0.0" y1="807.0" x2="807.0" y2="0.0" stroke="#000" stroke-width="2.5" />
<line x1="0.0" y1="828.5" x2="828.5" y2="0.0" stroke="#000" stroke-width="2.5" />
<line x1="0.0" y1="850.0" x2="850.0" y2="0.0" stroke="#000" stroke-width="2.5" />
<line x1="0.0" y1="871.5" x2="871.5" y2="0.0" stroke="#000" stroke-width="2.5" />
<line x1="0.0" y1="893.0" x2="893.0" y2="0.0" stroke="#000" stroke-width="2.5" />
<line x1="0.0" y1="914.5" x2="914.5" y2="0.0" stroke="#000" stroke-width="2.5" />
<line x1="0.0" y1="936.0" x2="936.0" y2="0.0" stroke="#000" stroke-width="2.5" />
<line x1="0.0" y1="957.5" x2="957.5" y2="0.0" stroke="#000" stroke-width="2.5" />
<line x1="0.0" y1="979.0" x2="979.0" y2="0.0" stroke="#000" stroke-width="2.5" />
<line x1="0.0" y1="1000.5" x2="1000.5" y2="0.0" stroke="#000" stroke-width="2.5" />
<line x1="0.0" y1="1022.0" x2="1022.0" y2="0.0" stroke="#000" stroke-width="2.5" />
<line x1="0.0" y1="1043.5" x2="1043.5" y2="0.0" stroke="#000" stroke-width="2.5" />
<line x1="0.0" y1="1065.0" x2="1065.0" y2="0.0" stroke="#000" stroke-width="2.5" />
<line x1="0.0" y1="1086.5" x2="1086.5" y2="0.0" stroke="#000" stroke-width="2.5" />
<line x1="0.0" y1="1108.0" x2="1108.0" y2="0.0" stroke="#000" stroke-width="2.5" />
<line x1="0.0" y1="1129.5" x2="1129.5" y2="0.0" stroke="#000" stroke-width="2.5" />
<line x1="0.0" y1="1151.0" x2="1151.0" y2="0.0" stroke="#000" stroke-width="2.5" />
<line x1="0.0" y1="1172.5" x2="1172.5" y2="0.0" stroke="#000" stroke-width="2.5" />
<line x1="0.0" y1="1194.0" x2="1194.0" y2="0.0" stroke="#000" stroke-width="2.5" />
<line x1="0.0" y1="1215.5" x2="1215.5" y2="0.0" stroke="#000" stroke-width="2.5" />
<line x1="0.0" y1="1237.0" x2="1237.0" y2="0.0" stroke="#000" stroke-width="2.5" />
<line x1="0.0" y1="1258.5" x2="1258.5" y2="0.0" stroke="#000" stroke-width="2.5" />
<line x1="0.0" y1="1280.0" x2="1280.0" y2="0.0" stroke="#000" stroke-width="2.5" />
<line x1="0.0" y1="1301.5" x2="1301.5" y2="0.0" stroke="#000" stroke-width="2.5" />
<line x1="0.0" y1="1323.0" x2="1323.0" y2="0.0" stroke="#000" stroke-width="2.5" />
<line x1="0.0" y1="1344.5" x2="1344.5" y2="0.0" stroke="#000" stroke-width="2.5" />
<line x1="0.0" y1="1366.0" x2="1366.0" y2="0.0" stroke="#000" stroke-width="2.5" />
<line x1="0.0" y1="1387.5" x2="1387.5" y2="0.0" stroke="#000" stroke-width="2.5" />
<line x1="0.0" y1="1409.0" x2="1409.0" y2="0.0" stroke="#000" stroke-width="2.5" />
<line x1="0.0" y1="1430.5" x2="1430.5" y2="0.0" stroke="#000" stroke-width="2.5" />
<line x1="0.0" y1="1452.0" x2="1452.0" y2="0.0" stroke="#000" stroke-width="2.5" />
<line x1="0.0" y1="1473.5" x2="1473.5" y2="0.0" stroke="#000" stroke-width="2.5" />
<line x1="0.0" y1="1495.0" x2="1495.0" y2="0.0" stroke="#000" stroke-width="2.5" />
<line x1="0.0" y1="1516.5" x2="1516.5" y2="0.0" stroke="#000" stroke-width="2.5" />
<line x1="0.0" y1="1538.0" x2="1538.0" y2="0.0" stroke="#000" stroke-width="2.5" />
<line x1="0.0" y1="1559.5" x2="1559.5" y2="0.0" stroke="#000" stroke-width="2.5" />
<line x1="0.0" y1="1581.0" x2="1581.0" y2="0.0" stroke="#000" stroke-width="2.5" />
<line x1="0.0" y1="1602.5" x2="1602.5" y2="0.0" stroke="#000" stroke-width="2.5" />
<line x1="0.0" y1="1624.0" x2="1624.0" y2="0.0" stroke="#000" stroke-width="2.5" />
<line x1="0.0" y1="1645.5" x2="1645.5" y2="0.0" stroke="#000" stroke-width="2.5" />
<line x1="0.0" y1="1667.0" x2="1667.0" y2="0.0" stroke="#000" stroke-width="2.5" />
<line x1="0.0" y1="1688.5" x2="1688.5" y2="0.0" stroke="#000" stroke-width="2.5" />
</g>
<path d="M913,176.5 L922,168.5 L942,168.5 Q951,168 960,162 L975,153.3" fill="none" stroke="#000" stroke-width="4.5" stroke-linejoin="round" stroke-linecap="round" />
<line x1="976.7" y1="153.0" x2="976.7" y2="201.3" stroke="#000" stroke-width="4.5" />
<path d="M975,164 L957.3,182.7 Q954,190 961.3,196 L977.3,202.7 L993.3,208 Q1001,211 1001,220 L1001,538" fill="none" stroke="#000" stroke-width="4.5" stroke-linejoin="round" stroke-linecap="round" />
<rect x="996.5" y="216" width="8.5" height="322" fill="#000"/>
<path d="M926.5,222 L926.5,205.3 L957,205.3 Q977,207 985,220 Q991,228 991,240 L991,431.7 Q991,440 985,448 L974.2,466.3 L950.3,466.3 L973,431.7 L973,250 Q973,226.5 955,225.5 L913,224.5" fill="none" stroke="#000" stroke-width="4.5" stroke-linejoin="round" stroke-linecap="round" />
<path d="M916,224.5 L955,225.5 Q973,226.5 973,250 L973,432" fill="none" stroke="#000" stroke-width="6" stroke-linejoin="round" stroke-linecap="round" />
<rect x="990" y="240" width="8" height="192" fill="#000"/>
<line x1="994.7" y1="240" x2="994.7" y2="440" stroke="#fff" stroke-width="1.8" stroke-dasharray="17 4.5"/>
<path d="M968.5,432 L941,471.5 Q937,480 938,500 Q940,510 947,513 L958,521.6 L966.6,521.6 L967.7,507.5 L959,503.2 Q953,498 955.8,485.8 Q958,481 968,478 L985,476 Q993,474 996,466" fill="none" stroke="#000" stroke-width="4.5" stroke-linejoin="round" stroke-linecap="round" />
<line x1="968.5" y1="507.0" x2="968.5" y2="528.0" stroke="#000" stroke-width="4.5" />
<rect x="931.2" y="304" width="4.6" height="224" fill="#000"/>
<polyline points="935.0,470.0 938.5,470.0 938.5,528.0" fill="none" stroke="#000" stroke-width="4.5" stroke-linejoin="round" stroke-linecap="round" />
<line x1="315.4" y1="221.0" x2="315.4" y2="260.7" stroke="#000" stroke-width="4.5" />
<polyline points="318.0,218.0 340.0,224.0 348.0,227.0 363.0,227.0 369.0,232.0" fill="none" stroke="#000" stroke-width="4.5" stroke-linejoin="round" stroke-linecap="round" />
<path d="M317,225 L336,242 Q340,247 337.5,252 Q335,256 330,257.4 L316.5,261.5 L307.5,263.5 Q299,267 294,274.3" fill="none" stroke="#000" stroke-width="4.5" stroke-linejoin="round" stroke-linecap="round" />
<path d="M296,278.5 Q301,271.5 309,268 L318,265.5 L332,261.5" fill="none" stroke="#000" stroke-width="4.5" stroke-linejoin="round" stroke-linecap="round" />
<path d="M304.5,293 Q306,281 317,272.5 Q325,267 339,262" fill="none" stroke="#000" stroke-width="4.5" stroke-linejoin="round" stroke-linecap="round" />
<rect x="293.75" y="275" width="8.75" height="347" fill="#000"/>
<rect x="301" y="293" width="6" height="227" fill="#000"/>
<line x1="303" y1="296" x2="303" y2="518" stroke="#fff" stroke-width="1.4" stroke-dasharray="20 4"/>
<path d="M306.5,520 L306.5,297.5 Q307,284 318.75,273.5 Q328,266 341.25,265 L358,264 L358,278" fill="none" stroke="#000" stroke-width="4.5" stroke-linejoin="round" stroke-linecap="round" />
<path d="M324.5,520 L324.5,297.5 Q325,287 337,281 L345,279.5 L366,280.5 L369,283.3" fill="none" stroke="#000" stroke-width="4.5" stroke-linejoin="round" stroke-linecap="round" />
<path d="M306.5,518 Q307,535 324,551.7 L346.7,551.7 L325,522" fill="none" stroke="#000" stroke-width="4.5" stroke-linejoin="round" stroke-linecap="round" />
<polyline points="324.5,519.0 331.0,519.0 361.0,555.0" fill="none" stroke="#000" stroke-width="4.5" stroke-linejoin="round" stroke-linecap="round" />
<polygon points="323,519 331,519 361,555 346.7,551.7" fill="#000"/>
<line x1="327" y1="523" x2="352" y2="552" stroke="#fff" stroke-width="1.6" stroke-dasharray="12 4"/>
<path d="M302.5,550 L304.2,556.7 Q308,562 313.3,563.3 L331.7,566.7 Q340,569 343,575 Q345,585 338.3,590 L331.25,595 L331.25,617" fill="none" stroke="#000" stroke-width="4.5" stroke-linejoin="round" stroke-linecap="round" />
<path d="M331.7,606.7 L341.7,606.7 L353.3,599.2 Q360,592 360,584 L360,563.3 Q360,558 357.5,557.5 L361,555" fill="none" stroke="#000" stroke-width="4.5" stroke-linejoin="round" stroke-linecap="round" />
<rect x="294" y="520" width="8.5" height="102" fill="#000"/>
<line x1="364.0" y1="298.0" x2="364.0" y2="617.0" stroke="#000" stroke-width="4.5" />
<line x1="370.5" y1="281.0" x2="370.5" y2="295.0" stroke="#000" stroke-width="6" />
<line x1="284" y1="1044" x2="1015" y2="1044" stroke="#000" stroke-width="3" stroke-dasharray="70 13 8.5 13.2" stroke-dashoffset="36"/>
<line x1="648.5" y1="158.75" x2="648.5" y2="600" stroke="#000" stroke-width="2.6" stroke-dasharray="63 13 6.5 13" stroke-dashoffset="30.5"/>
<line x1="648.5" y1="605.0" x2="648.5" y2="900.0" stroke="#000" stroke-width="2.6" />
<line x1="535.0" y1="157.5" x2="739.0" y2="595.0" stroke="#000" stroke-width="2.6" stroke-dasharray="70 14 8 14" stroke-dashoffset="34.1"/>
<line x1="744.8" y1="607.5" x2="860.2" y2="855.0" stroke="#000" stroke-width="2.6" />
<line x1="980.0" y1="56.0" x2="1027.7" y2="56.0" stroke="#000" stroke-width="2.9" />
<line x1="1090.8" y1="56.0" x2="1187.8" y2="56.0" stroke="#000" stroke-width="2.9" />
<line x1="1175.0" y1="60.0" x2="1175.0" y2="1045.3" stroke="#000" stroke-width="2.9" />
<polygon points="1175.0,57.0 1164.3,128.3 1185.7,128.3" fill="#000"/>
<line x1="159.5" y1="740.3" x2="324.0" y2="740.3" stroke="#000" stroke-width="2.9" />
<line x1="173.0" y1="742.0" x2="173.0" y2="1044.3" stroke="#000" stroke-width="2.9" />
<polygon points="173.0,741.5 162.4,812.0 183.6,812.0" fill="#000"/>
<line x1="284.2" y1="1155.3" x2="1015.0" y2="1155.3" stroke="#000" stroke-width="2.9" />
<polygon points="284.5,1155.3 356.0,1144.9 356.0,1165.7" fill="#000"/>
<polygon points="1014.5,1155.3 943.3,1144.9 943.3,1165.7" fill="#000"/>
<polyline points="850.9,833.2 844.6,836.1 838.2,838.9 831.8,841.6 825.4,844.2 818.9,846.7 812.4,849.1 805.8,851.5 799.2,853.7 792.6,855.9 785.9,857.9 779.3,859.8 772.5,861.7 765.8,863.4 759.0,865.1 752.3,866.7 745.5,868.1 738.6,869.5 731.8,870.7 724.9,871.9 718.0,872.9 711.2,873.9 704.3,874.8 697.3,875.5 690.4,876.2 683.5,876.7 676.5,877.2 669.6,877.5 662.6,877.8 655.7,877.9 648.7,878.0" fill="none" stroke="#000" stroke-width="2.9" stroke-linejoin="round" stroke-linecap="round" stroke-linecap="butt"/>
<polygon points="648.7,878.0 577.5,862.1 574.3,882.8" fill="#000"/>
<polyline points="575.9,872.4 572.9,872.0 569.8,871.5 566.8,870.9 563.8,870.4 560.7,869.8 557.7,869.3 554.7,868.7 551.7,868.1" fill="none" stroke="#000" stroke-width="2.9" stroke-linejoin="round" stroke-linecap="round" stroke-linecap="butt"/>
<polygon points="850.9,833.2 907.0,789.8 918.6,807.3" fill="#000"/>
<polyline points="912.8,798.5 915.9,796.4 919.0,794.3 922.1,792.2 925.2,790.0 928.3,787.8 931.3,785.6 934.3,783.4 937.3,781.1" fill="none" stroke="#000" stroke-width="2.9" stroke-linejoin="round" stroke-linecap="round" stroke-linecap="butt"/>
<path transform="translate(251.20,59.00) scale(1.0000,1.0025)" fill="#000" d="M0,1.9 L5.8,0 L6.7,0.3 L7.1,6.3 C8.6,3.3 11.6,0.2 16.5,0 L20.3,0 L17.8,6.9 C16.2,6.5 14.6,6.4 13.2,6.5 C10,7 7.7,10.5 7.5,15.5 L7.5,40.8 L0.8,40.8 L0.8,4.2 Z"/>
<path transform="translate(1040.00,43.70) scale(1.0049,1.0221)" fill="#000" d="M0,1.9 L5.8,0 L6.7,0.3 L7.1,6.3 C8.6,3.3 11.6,0.2 16.5,0 L20.3,0 L17.8,6.9 C16.2,6.5 14.6,6.4 13.2,6.5 C10,7 7.7,10.5 7.5,15.5 L7.5,40.8 L0.8,40.8 L0.8,4.2 Z"/>
<path transform="translate(1066.06,64.06) scale(0.9986,1.0000)" fill="#000" fill-rule="evenodd" d="M0,8.7 L12.1,0 L15.6,0 L15.6,37.25 L21.9,37.25 L21.9,40.5 L3.5,40.5 L3.5,37.25 L10.8,37.25 L10.8,5.6 L1.3,10.65 Z"/>
<path transform="translate(214.30,672.90) scale(1.0148,1.0000)" fill="#000" d="M0,1.9 L5.8,0 L6.7,0.3 L7.1,6.3 C8.6,3.3 11.6,0.2 16.5,0 L20.3,0 L17.8,6.9 C16.2,6.5 14.6,6.4 13.2,6.5 C10,7 7.7,10.5 7.5,15.5 L7.5,40.8 L0.8,40.8 L0.8,4.2 Z"/>
<path transform="translate(239.80,692.20) scale(1.0091,1.0099)" fill="#000" fill-rule="evenodd" d="M0,8.7 L12.1,0 L15.6,0 L15.6,37.25 L21.9,37.25 L21.9,40.5 L3.5,40.5 L3.5,37.25 L10.8,37.25 L10.8,5.6 L1.3,10.65 Z"/>
<path transform="translate(1040.50,668.90) scale(1.0000,0.9828)" fill="#000" d="M0,1.9 L5.8,0 L6.7,0.3 L7.1,6.3 C8.6,3.3 11.6,0.2 16.5,0 L20.3,0 L17.8,6.9 C16.2,6.5 14.6,6.4 13.2,6.5 C10,7 7.7,10.5 7.5,15.5 L7.5,40.8 L0.8,40.8 L0.8,4.2 Z"/>
<path transform="translate(120.25,986.70) scale(1.0000,1.0000)" fill="#000" fill-rule="evenodd" d="M26.56,0 L32.7,1.2 L33.6,57.8 L27.15,57.8 L26.85,54 C24,56.5 20,58.1 15.8,58.1 C6,58.1 0,48 0,37.65 C0,26 6,17.8 15.8,17.8 C20,17.8 24,19.5 26.56,21.9 Z M26.56,26 C24,23.5 20.5,22.2 16.35,22.2 C10,22.2 6.7,29 6.7,37.65 C6.7,47 10,53.4 16.35,53.4 C20.5,53.4 24.5,51 26.56,48.7 Z"/>
<path transform="translate(1190.15,990.15) scale(1.0000,0.9991)" fill="#000" fill-rule="evenodd" d="M0,0 L15.4,0 C30,0 37.1,11.1 37.1,26.8 C37.1,43.6 28.4,54.2 15.4,54.2 L0,54.2 Z M6,4.9 L13.8,4.9 C25.2,4.9 30.6,13.8 30.6,26.8 C30.6,41.4 25.2,49 13.8,49 L6,49 Z"/>
<text transform="translate(623.59,1142.00) scale(0.06842,0.07922)" font-family="Liberation Sans" font-size="1000" fill="#000" >B</text>
<path transform="translate(700,800) scale(0.06015)" fill="#000" fill-rule="evenodd" d="M865,295 L930,295 C925,420 880,530 830,615 C840,720 865,800 915,805 C950,805 975,780 995,755 L1015,778 C985,825 945,860 885,860 C820,860 780,800 755,705 C700,780 620,858 520,858 C380,858 285,740 285,580 C285,400 400,270 545,270 C650,270 725,360 790,545 C820,460 850,380 865,295 Z M565,305 C470,320 405,460 410,600 C415,740 470,815 545,815 C640,815 700,740 735,690 C720,580 700,470 665,375 C640,320 600,305 565,305 Z"/>
</svg>
</body></html>
